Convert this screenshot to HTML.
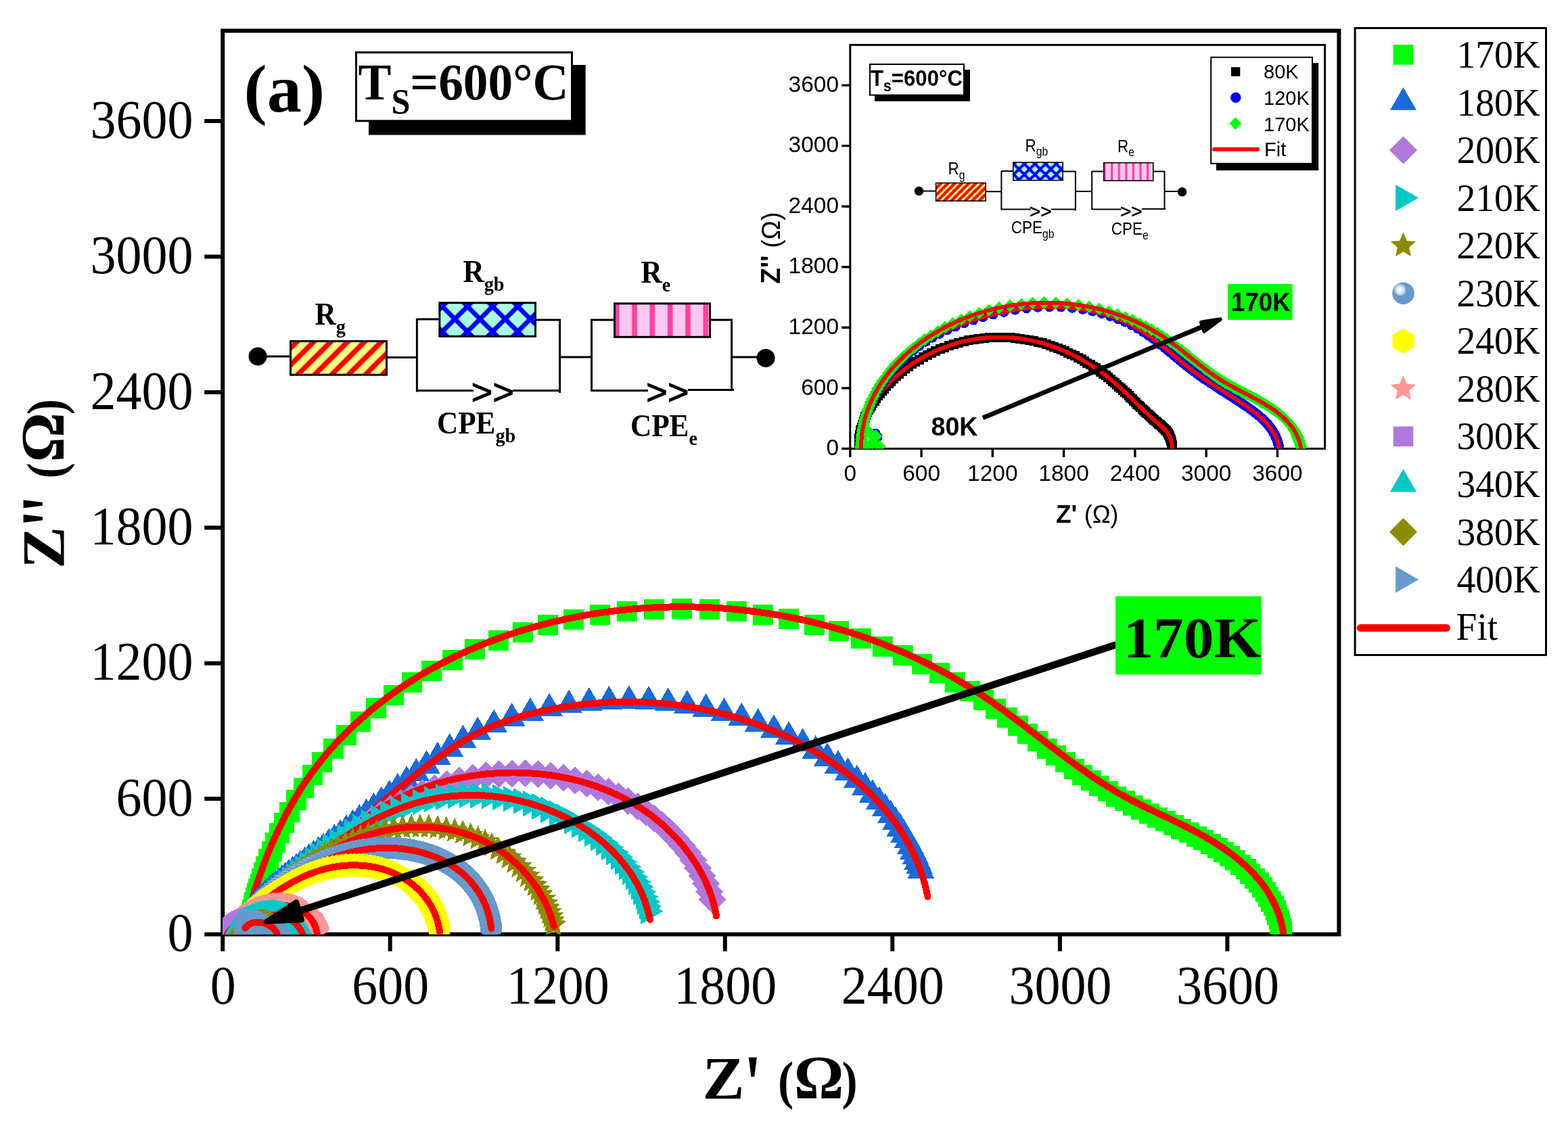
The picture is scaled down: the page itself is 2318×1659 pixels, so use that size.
<!DOCTYPE html>
<html><head><meta charset="utf-8"><title>Nyquist plot</title>
<style>
html,body{margin:0;padding:0;background:#fff;}
body{width:2318px;height:1659px;overflow:hidden;}
svg{display:block;}
text{white-space:pre;}
</style></head><body>
<svg width="2318" height="1659" viewBox="0 0 2318 1659">
<defs><clipPath id="mclip"><rect x="329.2" y="45.5" width="1650.2" height="1336"/></clipPath>
<clipPath id="iclip"><rect x="1256.8" y="66.4" width="701.8" height="597"/></clipPath></defs>
<defs><radialGradient id="sph" cx="0.355" cy="0.34" r="0.27" fx="0.355" fy="0.34"><stop offset="0" stop-color="#ffffff"/><stop offset="0.34" stop-color="#ffffff"/><stop offset="0.40" stop-color="#d9e6f4"/><stop offset="0.66" stop-color="#d9e6f4"/><stop offset="0.72" stop-color="#a9c6e6"/><stop offset="0.95" stop-color="#a9c6e6"/><stop offset="1" stop-color="#6699cc"/></radialGradient></defs>
<rect x="0" y="0" width="2318" height="1659" fill="#fff"/>
<rect x="329.2" y="45.5" width="1650.2" height="1336" fill="none" stroke="#000" stroke-width="6"/>
<path d="M329.2 1381.5h-27M329.2 1381.5v25M329.2 1181.1h-27M576.7 1381.5v25M329.2 980.7h-27M824.3 1381.5v25M329.2 780.3h-27M1071.8 1381.5v25M329.2 579.9h-27M1319.3 1381.5v25M329.2 379.5h-27M1566.9 1381.5v25M329.2 179.1h-27M1814.4 1381.5v25" stroke="#000" stroke-width="6" fill="none"/>
<g clip-path="url(#mclip)" shape-rendering="crispEdges">
<path d="M347.3 1368.5h30v30h-30zM348.1 1365.7h30v30h-30zM348.9 1362.6h30v30h-30zM349.8 1359.3h30v30h-30zM350.8 1355.8h30v30h-30zM351.9 1352.1h30v30h-30zM353 1348.1h30v30h-30zM354.1 1343.9h30v30h-30zM355.4 1339.4h30v30h-30zM356.8 1334.7h30v30h-30zM358.2 1329.6h30v30h-30zM359.8 1324.2h30v30h-30zM361.4 1318.5h30v30h-30zM363.3 1312.4h30v30h-30zM365.2 1305.9h30v30h-30zM367.4 1299h30v30h-30zM369.7 1291.6h30v30h-30zM372.2 1283.7h30v30h-30zM375.1 1275h30v30h-30zM378.4 1265.5h30v30h-30zM382.2 1255h30v30h-30zM386.6 1243.5h30v30h-30zM391.7 1230.9h30v30h-30zM397.6 1217.1h30v30h-30zM404.5 1202.1h30v30h-30zM412.7 1185.7h30v30h-30zM422.5 1168.2h30v30h-30zM433.8 1150h30v30h-30zM446.6 1131.2h30v30h-30zM461.3 1111.8h30v30h-30zM477.9 1092.1h30v30h-30zM496.8 1072h30v30h-30zM518 1051.8h30v30h-30zM541.3 1032h30v30h-30zM566.5 1012.8h30v30h-30zM593.7 994.4h30v30h-30zM622.7 976.9h30v30h-30zM653.8 960.6h30v30h-30zM686.8 945.4h30v30h-30zM721.7 931.7h30v30h-30zM758 919.5h30v30h-30zM795.3 909.1h30v30h-30zM833.4 900.5h30v30h-30zM872.4 893.7h30v30h-30zM912.1 888.8h30v30h-30zM952.4 885.8h30v30h-30zM993.3 884.8h30v30h-30zM1033.9 885.8h30v30h-30zM1073.7 888.7h30v30h-30zM1112.8 893.6h30v30h-30zM1151.1 900.3h30v30h-30zM1188.5 908.6h30v30h-30zM1224.5 918.4h30v30h-30zM1258.4 929.3h30v30h-30zM1290.3 941.1h30v30h-30zM1320.3 953.7h30v30h-30zM1348.1 966.7h30v30h-30zM1373.8 980h30v30h-30zM1397.3 993.5h30v30h-30zM1418.9 1007h30v30h-30zM1438.8 1020.3h30v30h-30zM1457.1 1033.3h30v30h-30zM1473.9 1045.9h30v30h-30zM1489.6 1058h30v30h-30zM1504.3 1069.5h30v30h-30zM1518.7 1080.8h30v30h-30zM1532.7 1091.5h30v30h-30zM1546.3 1102h30v30h-30zM1559.6 1111.9h30v30h-30zM1572.6 1121.5h30v30h-30zM1585.4 1130.6h30v30h-30zM1597.9 1139.2h30v30h-30zM1610.4 1147.4h30v30h-30zM1622.8 1155.2h30v30h-30zM1635.2 1162.5h30v30h-30zM1647.5 1169.4h30v30h-30zM1659.9 1176h30v30h-30zM1672.2 1182.1h30v30h-30zM1684.3 1188.1h30v30h-30zM1696.4 1193.8h30v30h-30zM1708.2 1199.4h30v30h-30zM1719.9 1205h30v30h-30zM1731.3 1210.5h30v30h-30zM1742.6 1216h30v30h-30zM1753.6 1221.5h30v30h-30zM1764.4 1227.1h30v30h-30zM1774.7 1232.9h30v30h-30zM1784.6 1238.9h30v30h-30zM1794 1244.9h30v30h-30zM1802.9 1251.1h30v30h-30zM1811.2 1257.4h30v30h-30zM1819.1 1263.8h30v30h-30zM1826.5 1270.2h30v30h-30zM1833.4 1276.8h30v30h-30zM1839.8 1283.5h30v30h-30zM1845.7 1290.2h30v30h-30zM1851.1 1297h30v30h-30zM1855.9 1303.8h30v30h-30zM1860.3 1310.7h30v30h-30zM1864.2 1317.5h30v30h-30zM1867.7 1324.3h30v30h-30zM1870.7 1331.1h30v30h-30zM1873.3 1337.8h30v30h-30zM1875.5 1344.4h30v30h-30zM1877.4 1350.8h30v30h-30zM1878.9 1357.2h30v30h-30zM1880.1 1363.4h30v30h-30z" fill="#00ff00"/>
<path d="M357 1382 L361.1 1368.1 L365.2 1354.1 L369.3 1340.2 L373.6 1326.3 L378.1 1312.4 L382.7 1298.6 L387.5 1284.9 L392.6 1271.2 L398 1257.7 L403.7 1244.2 L409.7 1231 L416 1217.8 L422.6 1204.9 L429.6 1192.1 L436.8 1179.5 L444.4 1167.1 L452.4 1155 L460.7 1143.1 L469.4 1131.5 L478.4 1120.1 L487.8 1109.1 L497.5 1098.2 L507.6 1087.7 L517.9 1077.4 L528.6 1067.5 L539.5 1057.8 L550.6 1048.3 L562 1039.2 L573.7 1030.4 L585.6 1021.8 L597.6 1013.6 L609.9 1005.6 L622.3 998 L635 990.6 L647.7 983.6 L660.6 976.9 L673.7 970.4 L686.9 964.3 L700.2 958.4 L713.6 952.8 L727.1 947.6 L740.8 942.5 L754.5 937.8 L768.3 933.3 L782.3 929.1 L796.3 925.2 L810.3 921.5 L824.5 918.1 L838.7 914.9 L852.9 912.1 L867.3 909.4 L881.6 907 L896.1 904.9 L910.5 903.1 L925 901.5 L939.5 900.1 L954.1 899 L968.7 898.2 L983.3 897.7 L997.9 897.3 L1012.5 897.3 L1027.1 897.5 L1041.7 897.9 L1056.2 898.7 L1070.8 899.6 L1085.4 900.8 L1099.9 902.3 L1114.4 904.1 L1128.9 906 L1143.3 908.3 L1157.7 910.8 L1172 913.5 L1186.3 916.5 L1200.5 919.8 L1214.7 923.3 L1228.8 927 L1242.8 931 L1256.8 935.3 L1270.6 939.8 L1284.4 944.5 L1298.1 949.5 L1311.6 954.8 L1325.1 960.3 L1338.5 966 L1351.7 972 L1364.8 978.2 L1377.8 984.7 L1390.7 991.5 L1403.5 998.5 L1416.1 1005.7 L1428.5 1013.2 L1440.9 1020.9 L1453 1028.8 L1465 1037 L1476.9 1045.4 L1488.7 1054 L1500.4 1062.7 L1512 1071.5 L1523.6 1080.4 L1535.1 1089.3 L1546.7 1098.2 L1558.3 1107.1 L1569.9 1115.9 L1581.6 1124.6 L1593.3 1133.2 L1605.2 1141.6 L1617.2 1149.8 L1629.3 1157.8 L1641.6 1165.5 L1654.1 1172.9 L1666.8 1180 L1679.8 1186.7 L1692.8 1193.2 L1706 1199.6 L1719.2 1205.9 L1732.4 1212.2 L1745.6 1218.6 L1758.7 1225.1 L1771.7 1231.9 L1784.4 1239 L1797 1246.6 L1809.2 1254.6 L1821.1 1263.1 L1832.5 1272.2 L1843.3 1281.8 L1853.5 1292.1 L1862.9 1302.9 L1871.5 1314.4 L1879 1326.5 L1885.5 1339.3 L1890.9 1352.8 L1895 1367 L1897.7 1382" fill="none" stroke="#ff0000" stroke-width="10" stroke-linecap="round" stroke-linejoin="round"/>
<path d="M347 1357.6L367 1392.2L327 1392.2zM348.5 1355L368.5 1389.6L328.5 1389.6zM350 1352.3L370 1387L330 1387zM351.7 1349.6L371.7 1384.2L331.7 1384.2zM353.4 1346.8L373.4 1381.4L333.4 1381.4zM355.3 1343.9L375.3 1378.6L335.3 1378.6zM357.2 1341L377.2 1375.6L337.2 1375.6zM359.3 1338L379.3 1372.7L339.3 1372.7zM361.5 1335L381.5 1369.6L341.5 1369.6zM363.8 1331.9L383.8 1366.5L343.8 1366.5zM366.2 1328.7L386.2 1363.3L346.2 1363.3zM368.8 1325.5L388.8 1360.1L348.8 1360.1zM371.5 1322.2L391.5 1356.8L351.5 1356.8zM374.4 1318.8L394.4 1353.5L354.4 1353.5zM377.4 1315.4L397.4 1350.1L357.4 1350.1zM380.5 1312L400.5 1346.6L360.5 1346.6zM383.9 1308.4L403.9 1343.1L363.9 1343.1zM387.3 1304.9L407.3 1339.5L367.3 1339.5zM391 1301.2L411 1335.9L371 1335.9zM394.8 1297.5L414.8 1332.2L374.8 1332.2zM398.9 1293.8L418.9 1328.4L378.9 1328.4zM403.1 1290L423.1 1324.6L383.1 1324.6zM407.4 1286.1L427.4 1320.7L387.4 1320.7zM412 1282.2L432 1316.8L392 1316.8zM416.8 1278.1L436.8 1312.8L396.8 1312.8zM421.8 1274L441.8 1308.7L401.8 1308.7zM427 1269.9L447 1304.5L407 1304.5zM432.4 1265.6L452.4 1300.3L412.4 1300.3zM438 1261.2L458 1295.9L418 1295.9zM443.9 1256.7L463.9 1291.3L423.9 1291.3zM450.2 1251.9L470.2 1286.6L430.2 1286.6zM456.7 1246.9L476.7 1281.6L436.7 1281.6zM463.6 1241.7L483.6 1276.4L443.6 1276.4zM470.8 1236.2L490.8 1270.9L450.8 1270.9zM478.3 1230.5L498.3 1265.1L458.3 1265.1zM486.2 1224.4L506.2 1259L466.2 1259zM494.4 1217.9L514.4 1252.6L474.4 1252.6zM503 1211.2L523 1245.8L483 1245.8zM512 1204.1L532 1238.7L492 1238.7zM521.4 1196.6L541.4 1231.2L501.4 1231.2zM531.3 1188.7L551.3 1223.3L511.3 1223.3zM541.6 1180.4L561.6 1215L521.6 1215zM552.4 1171.7L572.4 1206.3L532.4 1206.3zM563.7 1162.5L583.7 1197.2L543.7 1197.2zM575.5 1152.9L595.5 1187.5L555.5 1187.5zM587.9 1142.8L607.9 1177.5L567.9 1177.5zM601.1 1132.1L621.1 1166.8L581.1 1166.8zM615.3 1120.8L635.3 1155.4L595.3 1155.4zM630.5 1108.9L650.5 1143.5L610.5 1143.5zM646.9 1096.5L666.9 1131.2L626.9 1131.2zM664.8 1084L684.8 1118.6L644.8 1118.6zM684.5 1071.5L704.5 1106.1L664.5 1106.1zM706.2 1059.5L726.2 1094.2L686.2 1094.2zM730.2 1048.6L750.2 1083.3L710.2 1083.3zM756.6 1039L776.6 1073.7L736.6 1073.7zM783.9 1031.1L803.9 1065.7L763.9 1065.7zM812.1 1024.7L832.1 1059.3L792.1 1059.3zM841.1 1019.7L861.1 1054.3L821.1 1054.3zM870.8 1016L890.8 1050.7L850.8 1050.7zM900.4 1013.9L920.4 1048.5L880.4 1048.5zM929.9 1013.3L949.9 1047.9L909.9 1047.9zM959 1014.1L979 1048.8L939 1048.8zM987.7 1016.4L1007.7 1051L967.7 1051zM1015.9 1020.1L1035.9 1054.7L995.9 1054.7zM1043.6 1025.1L1063.6 1059.7L1023.6 1059.7zM1070.5 1031.4L1090.5 1066L1050.5 1066zM1096.2 1038.7L1116.2 1073.4L1076.2 1073.4zM1120.7 1047L1140.7 1081.7L1100.7 1081.7zM1144 1056.2L1164 1090.9L1124 1090.9zM1166.1 1066.1L1186.1 1100.8L1146.1 1100.8zM1186.6 1076.5L1206.6 1111.1L1166.6 1111.1zM1205.6 1087.1L1225.6 1121.8L1185.6 1121.8zM1223 1097.9L1243 1132.6L1203 1132.6zM1238.9 1108.8L1258.9 1143.5L1218.9 1143.5zM1253.5 1119.8L1273.5 1154.4L1233.5 1154.4zM1266.8 1130.6L1286.8 1165.3L1246.8 1165.3zM1278.9 1141.4L1298.9 1176.1L1258.9 1176.1zM1289.9 1152.1L1309.9 1186.7L1269.9 1186.7zM1299.8 1162.5L1319.8 1197.2L1279.8 1197.2zM1308.8 1172.8L1328.8 1207.4L1288.8 1207.4zM1316.8 1182.8L1336.8 1217.4L1296.8 1217.4zM1324 1192.5L1344 1227.1L1304 1227.1zM1330.5 1201.9L1350.5 1236.6L1310.5 1236.6zM1336.3 1211L1356.3 1245.7L1316.3 1245.7zM1341.4 1219.8L1361.4 1254.4L1321.4 1254.4zM1345.9 1228.2L1365.9 1262.8L1325.9 1262.8zM1349.9 1236.2L1369.9 1270.8L1329.9 1270.8zM1353.4 1243.7L1373.4 1278.4L1333.4 1278.4zM1356.4 1250.9L1376.4 1285.6L1336.4 1285.6zM1359.1 1257.7L1379.1 1292.3L1339.1 1292.3zM1361.4 1264.1L1381.4 1298.8L1341.4 1298.8z" fill="#1a6add"/>
<path d="M347 1382.2 L351.9 1373.8 L357.2 1365.6 L362.8 1357.8 L368.6 1350.3 L374.7 1343 L381 1336 L387.6 1329.2 L394.3 1322.6 L401.3 1316.2 L408.3 1309.9 L415.5 1303.8 L422.9 1297.8 L430.3 1291.8 L437.8 1286 L445.3 1280.2 L452.9 1274.4 L460.5 1268.7 L468.1 1262.9 L475.7 1257.1 L483.2 1251.3 L490.8 1245.4 L498.3 1239.5 L505.7 1233.6 L513.2 1227.7 L520.7 1221.8 L528.1 1215.8 L535.6 1209.8 L543 1203.8 L550.4 1197.8 L557.8 1191.8 L565.3 1185.8 L572.7 1179.8 L580.1 1173.8 L587.5 1167.7 L594.9 1161.7 L602.4 1155.7 L609.8 1149.7 L617.3 1143.7 L624.8 1137.8 L632.4 1132 L640 1126.2 L647.7 1120.6 L655.4 1115 L663.2 1109.6 L671.1 1104.4 L679.1 1099.3 L687.2 1094.5 L695.4 1089.8 L703.7 1085.4 L712.2 1081.2 L720.8 1077.2 L729.5 1073.5 L738.3 1070 L747.2 1066.8 L756.2 1063.7 L765.3 1060.9 L774.5 1058.2 L783.7 1055.7 L793 1053.5 L802.3 1051.3 L811.7 1049.4 L821.1 1047.6 L830.5 1045.9 L840 1044.4 L849.5 1043.1 L859 1041.9 L868.5 1040.8 L878 1040 L887.5 1039.2 L897 1038.7 L906.6 1038.2 L916.1 1038 L925.7 1037.9 L935.2 1037.9 L944.7 1038.1 L954.3 1038.5 L963.8 1039 L973.3 1039.7 L982.8 1040.5 L992.3 1041.5 L1001.7 1042.6 L1011.2 1043.9 L1020.6 1045.4 L1030 1047 L1039.3 1048.8 L1048.7 1050.7 L1058 1052.8 L1067.2 1055.1 L1076.4 1057.5 L1085.6 1060.1 L1094.7 1062.8 L1103.8 1065.8 L1112.9 1068.8 L1121.8 1072 L1130.8 1075.4 L1139.6 1079 L1148.4 1082.7 L1157.2 1086.6 L1165.9 1090.6 L1174.5 1094.8 L1183.1 1099.2 L1191.5 1103.7 L1199.9 1108.4 L1208.2 1113.3 L1216.4 1118.3 L1224.5 1123.5 L1232.4 1128.9 L1240.2 1134.4 L1247.9 1140.1 L1255.5 1145.9 L1262.9 1151.9 L1270.1 1158.1 L1277.2 1164.4 L1284.1 1170.9 L1290.8 1177.6 L1297.3 1184.4 L1303.7 1191.4 L1309.8 1198.6 L1315.7 1205.9 L1321.4 1213.4 L1326.8 1221.1 L1332 1228.9 L1337 1236.9 L1341.7 1245 L1346.2 1253.3 L1350.4 1261.8 L1354.3 1270.4 L1357.9 1279.2 L1361.3 1288.2 L1364.3 1297.3 L1367 1306.6 L1369.4 1316.1 L1371.5 1325.7" fill="none" stroke="#ff0000" stroke-width="10" stroke-linecap="round" stroke-linejoin="round"/>
<path d="M346 1360.5L366.5 1381L346 1401.5L325.5 1381zM348.2 1358.4L368.7 1378.9L348.2 1399.4L327.7 1378.9zM350.4 1356.3L370.9 1376.8L350.4 1397.3L329.9 1376.8zM352.7 1354L373.2 1374.5L352.7 1395L332.2 1374.5zM355.2 1351.7L375.7 1372.2L355.2 1392.7L334.7 1372.2zM357.7 1349.3L378.2 1369.8L357.7 1390.3L337.2 1369.8zM360.3 1346.8L380.8 1367.3L360.3 1387.8L339.8 1367.3zM363 1344.2L383.5 1364.7L363 1385.2L342.5 1364.7zM365.9 1341.5L386.4 1362L365.9 1382.5L345.4 1362zM368.8 1338.8L389.3 1359.3L368.8 1379.8L348.3 1359.3zM371.9 1335.9L392.4 1356.4L371.9 1376.9L351.4 1356.4zM375.1 1332.9L395.6 1353.4L375.1 1373.9L354.6 1353.4zM378.4 1329.8L398.9 1350.3L378.4 1370.8L357.9 1350.3zM381.9 1326.6L402.4 1347.1L381.9 1367.6L361.4 1347.1zM385.5 1323.3L406 1343.8L385.5 1364.3L365 1343.8zM389.2 1319.9L409.7 1340.4L389.2 1360.9L368.7 1340.4zM393.1 1316.4L413.6 1336.9L393.1 1357.4L372.6 1336.9zM397.1 1312.7L417.6 1333.2L397.1 1353.7L376.6 1333.2zM401.4 1308.9L421.9 1329.4L401.4 1349.9L380.9 1329.4zM405.8 1305L426.3 1325.5L405.8 1346L385.3 1325.5zM410.3 1300.9L430.8 1321.4L410.3 1341.9L389.8 1321.4zM415.1 1296.7L435.6 1317.2L415.1 1337.7L394.6 1317.2zM420.1 1292.4L440.6 1312.9L420.1 1333.4L399.6 1312.9zM425.2 1287.9L445.7 1308.4L425.2 1328.9L404.7 1308.4zM430.6 1283.2L451.1 1303.7L430.6 1324.2L410.1 1303.7zM436.2 1278.4L456.7 1298.9L436.2 1319.4L415.7 1298.9zM442.1 1273.5L462.6 1294L442.1 1314.5L421.6 1294zM448.2 1268.4L468.7 1288.9L448.2 1309.4L427.7 1288.9zM454.6 1263L475.1 1283.5L454.6 1304L434.1 1283.5zM461.5 1257.3L482 1277.8L461.5 1298.3L441 1277.8zM468.9 1251.4L489.4 1271.9L468.9 1292.4L448.4 1271.9zM476.7 1245.1L497.2 1265.6L476.7 1286.1L456.2 1265.6zM485.1 1238.4L505.6 1258.9L485.1 1279.4L464.6 1258.9zM494 1231.5L514.5 1252L494 1272.5L473.5 1252zM503.6 1224.2L524.1 1244.7L503.6 1265.2L483.1 1244.7zM513.8 1216.6L534.3 1237.1L513.8 1257.6L493.3 1237.1zM524.8 1208.7L545.3 1229.2L524.8 1249.7L504.3 1229.2zM536.6 1200.5L557.1 1221L536.6 1241.5L516.1 1221zM549.3 1192.1L569.8 1212.6L549.3 1233.1L528.8 1212.6zM562.9 1183.5L583.4 1204L562.9 1224.5L542.4 1204zM577.2 1175.1L597.7 1195.6L577.2 1216.1L556.7 1195.6zM592.2 1167L612.7 1187.5L592.2 1208L571.7 1187.5zM608 1159.2L628.5 1179.7L608 1200.2L587.5 1179.7zM624.6 1151.9L645.1 1172.4L624.6 1192.9L604.1 1172.4zM642 1145L662.5 1165.5L642 1186L621.5 1165.5zM660.2 1138.9L680.7 1159.4L660.2 1179.9L639.7 1159.4zM679.4 1133.6L699.9 1154.1L679.4 1174.6L658.9 1154.1zM698.8 1129.4L719.3 1149.9L698.8 1170.4L678.3 1149.9zM718.3 1126.3L738.8 1146.8L718.3 1167.3L697.8 1146.8zM737.7 1124.2L758.2 1144.7L737.7 1165.2L717.2 1144.7zM757.2 1123.3L777.7 1143.8L757.2 1164.3L736.7 1143.8zM776.4 1123.3L796.9 1143.8L776.4 1164.3L755.9 1143.8zM795.5 1124.4L816 1144.9L795.5 1165.4L775 1144.9zM814.4 1126.5L834.9 1147L814.4 1167.5L793.9 1147zM832.7 1129.5L853.2 1150L832.7 1170.5L812.2 1150zM850.3 1133.4L870.8 1153.9L850.3 1174.4L829.8 1153.9zM867.4 1138.2L887.9 1158.7L867.4 1179.2L846.9 1158.7zM883.8 1143.6L904.3 1164.1L883.8 1184.6L863.3 1164.1zM899.5 1149.9L920 1170.4L899.5 1190.9L879 1170.4zM914.5 1156.7L935 1177.2L914.5 1197.7L894 1177.2zM928.8 1164.2L949.3 1184.7L928.8 1205.2L908.3 1184.7zM942.3 1172.2L962.8 1192.7L942.3 1213.2L921.8 1192.7zM955.1 1180.8L975.6 1201.3L955.1 1221.8L934.6 1201.3zM967.2 1189.8L987.7 1210.3L967.2 1230.8L946.7 1210.3zM978.6 1199.2L999.1 1219.7L978.6 1240.2L958.1 1219.7zM989.2 1209.1L1009.7 1229.6L989.2 1250.1L968.7 1229.6zM999.2 1219.3L1019.7 1239.8L999.2 1260.3L978.7 1239.8zM1008.4 1229.8L1028.9 1250.3L1008.4 1270.8L987.9 1250.3zM1017 1240.6L1037.5 1261.1L1017 1281.6L996.5 1261.1zM1024.8 1251.7L1045.3 1272.2L1024.8 1292.7L1004.3 1272.2zM1031.8 1263L1052.3 1283.5L1031.8 1304L1011.3 1283.5zM1038.2 1274.4L1058.7 1294.9L1038.2 1315.4L1017.7 1294.9zM1043.8 1286L1064.3 1306.5L1043.8 1327L1023.3 1306.5zM1048.6 1297.7L1069.1 1318.2L1048.6 1338.7L1028.1 1318.2zM1052.7 1309.4L1073.2 1329.9L1052.7 1350.4L1032.2 1329.9z" fill="#b078dc"/>
<path d="M346 1381 L350.1 1375.6 L354.2 1370.3 L358.4 1365.1 L362.8 1360 L367.2 1355 L371.7 1350.1 L376.3 1345.2 L380.9 1340.5 L385.6 1335.8 L390.4 1331.1 L395.2 1326.6 L400.1 1322 L405.1 1317.6 L410.1 1313.2 L415.1 1308.8 L420.2 1304.5 L425.3 1300.2 L430.5 1295.9 L435.7 1291.7 L440.9 1287.5 L446.1 1283.3 L451.3 1279.1 L456.6 1274.9 L461.9 1270.8 L467.2 1266.6 L472.4 1262.4 L477.7 1258.2 L483 1254 L488.3 1249.8 L493.5 1245.6 L498.8 1241.4 L504.1 1237.2 L509.4 1233 L514.7 1228.9 L520 1224.8 L525.4 1220.7 L530.8 1216.8 L536.2 1212.8 L541.7 1209 L547.2 1205.2 L552.7 1201.5 L558.3 1197.9 L564 1194.4 L569.7 1191 L575.5 1187.8 L581.4 1184.6 L587.3 1181.6 L593.2 1178.7 L599.3 1175.9 L605.3 1173.2 L611.5 1170.6 L617.7 1168.2 L623.9 1165.9 L630.2 1163.6 L636.5 1161.5 L642.8 1159.5 L649.2 1157.6 L655.7 1155.9 L662.1 1154.2 L668.7 1152.7 L675.2 1151.2 L681.8 1149.9 L688.4 1148.7 L695 1147.6 L701.6 1146.6 L708.3 1145.7 L715 1144.9 L721.7 1144.2 L728.4 1143.7 L735.2 1143.2 L741.9 1142.9 L748.7 1142.6 L755.4 1142.5 L762.2 1142.5 L768.9 1142.6 L775.7 1142.9 L782.4 1143.2 L789.2 1143.7 L795.9 1144.2 L802.6 1144.9 L809.3 1145.7 L815.9 1146.6 L822.6 1147.7 L829.2 1148.8 L835.8 1150.1 L842.3 1151.5 L848.9 1153 L855.4 1154.7 L861.8 1156.5 L868.2 1158.3 L874.6 1160.4 L880.9 1162.5 L887.1 1164.8 L893.3 1167.1 L899.5 1169.6 L905.6 1172.3 L911.6 1175 L917.6 1177.9 L923.5 1181 L929.3 1184.1 L935.1 1187.4 L940.8 1190.8 L946.4 1194.3 L951.9 1198 L957.4 1201.8 L962.8 1205.7 L968 1209.8 L973.2 1214 L978.3 1218.3 L983.3 1222.8 L988.2 1227.4 L993 1232.1 L997.7 1237 L1002.3 1242 L1006.8 1247.1 L1011.1 1252.4 L1015.3 1257.7 L1019.3 1263.2 L1023.3 1268.7 L1027 1274.4 L1030.6 1280.1 L1034.1 1286 L1037.3 1291.9 L1040.4 1297.9 L1043.3 1303.9 L1046 1310.1 L1048.5 1316.3 L1050.8 1322.5 L1052.9 1328.8 L1054.8 1335.2 L1056.4 1341.6 L1057.8 1348 L1059 1354.5" fill="none" stroke="#ff0000" stroke-width="10" stroke-linecap="round" stroke-linejoin="round"/>
<path d="M367.5 1381L333.7 1400.5L333.7 1361.5zM369.6 1378.9L335.8 1398.4L335.8 1359.4zM371.8 1376.6L338 1396.1L338 1357.1zM374.1 1374.3L340.3 1393.8L340.3 1354.8zM376.5 1371.9L342.7 1391.4L342.7 1352.4zM379 1369.3L345.2 1388.8L345.2 1349.8zM381.6 1366.7L347.9 1386.2L347.9 1347.2zM384.4 1363.9L350.6 1383.4L350.6 1344.4zM387.2 1361.1L353.5 1380.6L353.5 1341.6zM390.2 1358.1L356.4 1377.6L356.4 1338.6zM393.3 1354.9L359.6 1374.4L359.6 1335.4zM396.6 1351.7L362.8 1371.2L362.8 1332.2zM400 1348.3L366.3 1367.8L366.3 1328.8zM403.6 1344.8L369.8 1364.3L369.8 1325.3zM407.4 1341.1L373.6 1360.6L373.6 1321.6zM411.3 1337.3L377.5 1356.8L377.5 1317.8zM415.4 1333.3L381.6 1352.8L381.6 1313.8zM419.7 1329.2L385.9 1348.7L385.9 1309.7zM424.2 1324.9L390.4 1344.4L390.4 1305.4zM429 1320.4L395.2 1339.9L395.2 1300.9zM433.9 1315.8L400.2 1335.3L400.2 1296.3zM439.1 1311L405.4 1330.5L405.4 1291.5zM444.6 1306L410.8 1325.5L410.8 1286.5zM450.4 1300.9L416.6 1320.4L416.6 1281.4zM456.4 1295.5L422.7 1315L422.7 1276zM462.9 1289.9L429.1 1309.4L429.1 1270.4zM469.7 1284.1L435.9 1303.6L435.9 1264.6zM477 1278.1L443.2 1297.6L443.2 1258.6zM484.7 1271.9L450.9 1291.4L450.9 1252.4zM492.9 1265.4L459.1 1284.9L459.1 1245.9zM501.6 1258.8L467.9 1278.3L467.9 1239.3zM511 1251.9L477.2 1271.4L477.2 1232.4zM521 1244.9L487.2 1264.4L487.2 1225.4zM531.6 1237.8L497.8 1257.3L497.8 1218.3zM543 1230.6L509.3 1250.1L509.3 1211.1zM555.2 1223.3L521.4 1242.8L521.4 1203.8zM568 1216.2L534.2 1235.7L534.2 1196.7zM581.5 1209.3L547.7 1228.8L547.7 1189.8zM595.7 1202.7L561.9 1222.2L561.9 1183.2zM610.7 1196.5L577 1216L577 1177zM626.6 1190.8L592.8 1210.3L592.8 1171.3zM643.2 1185.9L609.5 1205.4L609.5 1166.4zM660.7 1181.7L627 1201.2L627 1162.2zM678.2 1178.7L644.4 1198.2L644.4 1159.2zM695.4 1176.8L661.6 1196.3L661.6 1157.3zM712.5 1175.9L678.7 1195.4L678.7 1156.4zM729.2 1176L695.4 1195.5L695.4 1156.5zM745.6 1177L711.9 1196.5L711.9 1157.5zM761.7 1178.8L727.9 1198.3L727.9 1159.3zM777.3 1181.3L743.5 1200.8L743.5 1161.8zM792.2 1184.5L758.5 1204L758.5 1165zM806.5 1188.3L772.7 1207.8L772.7 1168.8zM820.1 1192.6L786.4 1212.1L786.4 1173.1zM833.1 1197.3L799.3 1216.8L799.3 1177.8zM845.4 1202.5L811.7 1222L811.7 1183zM857.1 1208L823.3 1227.5L823.3 1188.5zM868.2 1213.8L834.4 1233.3L834.4 1194.3zM878.6 1219.8L844.9 1239.3L844.9 1200.3zM888.5 1226.1L854.7 1245.6L854.7 1206.6zM897.7 1232.6L864 1252.1L864 1213.1zM906.4 1239.2L872.7 1258.7L872.7 1219.7zM914.6 1246L880.9 1265.5L880.9 1226.5zM922.3 1252.9L888.6 1272.4L888.6 1233.4zM929.5 1260L895.8 1279.5L895.8 1240.5zM936.3 1267.2L902.5 1286.7L902.5 1247.7zM942.5 1274.5L908.7 1294L908.7 1255zM948.2 1281.8L914.5 1301.3L914.5 1262.3zM953.5 1289.2L919.7 1308.7L919.7 1269.7zM958.3 1296.6L924.6 1316.1L924.6 1277.1zM962.7 1304L929 1323.5L929 1284.5zM966.7 1311.3L932.9 1330.8L932.9 1291.8zM970.2 1318.7L936.4 1338.2L936.4 1299.2zM973.4 1326L939.6 1345.5L939.6 1306.5zM976.1 1333.2L942.3 1352.7L942.3 1313.7zM978.5 1340.3L944.7 1359.8L944.7 1320.8zM980.6 1347.4L946.8 1366.9L946.8 1327.9z" fill="#00c8c8"/>
<path d="M345 1381 L348.9 1377 L352.9 1373 L356.9 1369 L360.9 1364.9 L364.9 1360.9 L368.9 1356.9 L372.9 1352.8 L377 1348.8 L381.1 1344.8 L385.2 1340.8 L389.3 1336.8 L393.4 1332.8 L397.6 1328.8 L401.8 1324.8 L406 1320.8 L410.2 1316.9 L414.5 1313 L418.7 1309.1 L423 1305.2 L427.4 1301.3 L431.7 1297.5 L436.1 1293.6 L440.5 1289.8 L444.9 1286.1 L449.3 1282.3 L453.8 1278.6 L458.3 1275 L462.8 1271.3 L467.4 1267.8 L472 1264.2 L476.6 1260.7 L481.2 1257.2 L485.9 1253.8 L490.6 1250.4 L495.4 1247.1 L500.1 1243.8 L504.9 1240.6 L509.7 1237.4 L514.6 1234.2 L519.5 1231.2 L524.4 1228.2 L529.4 1225.2 L534.4 1222.3 L539.4 1219.5 L544.5 1216.7 L549.6 1214 L554.7 1211.4 L559.8 1208.9 L565 1206.4 L570.3 1204 L575.5 1201.7 L580.8 1199.5 L586.1 1197.3 L591.4 1195.3 L596.8 1193.3 L602.2 1191.5 L607.6 1189.7 L613.1 1188 L618.6 1186.4 L624.1 1185 L629.6 1183.6 L635.2 1182.4 L640.8 1181.2 L646.4 1180.2 L652.1 1179.2 L657.8 1178.4 L663.5 1177.7 L669.2 1177.1 L674.9 1176.7 L680.7 1176.3 L686.4 1176 L692.2 1175.9 L698 1175.9 L703.7 1175.9 L709.5 1176.1 L715.3 1176.4 L721.1 1176.8 L726.9 1177.3 L732.6 1177.9 L738.4 1178.6 L744.1 1179.5 L749.9 1180.4 L755.6 1181.4 L761.3 1182.6 L766.9 1183.8 L772.6 1185.2 L778.2 1186.6 L783.8 1188.2 L789.4 1189.9 L794.9 1191.7 L800.4 1193.5 L805.9 1195.5 L811.3 1197.6 L816.6 1199.8 L822 1202.1 L827.3 1204.4 L832.5 1206.9 L837.7 1209.5 L842.8 1212.2 L847.9 1215 L852.9 1217.9 L857.8 1220.9 L862.7 1224 L867.5 1227.1 L872.3 1230.4 L876.9 1233.8 L881.5 1237.3 L886 1240.9 L890.4 1244.5 L894.8 1248.3 L899 1252.2 L903.1 1256.1 L907.2 1260.2 L911.1 1264.3 L914.9 1268.5 L918.6 1272.9 L922.2 1277.3 L925.7 1281.8 L929.1 1286.4 L932.3 1291.1 L935.4 1295.9 L938.3 1300.7 L941.2 1305.7 L943.9 1310.7 L946.4 1315.9 L948.8 1321.1 L951 1326.4 L953.1 1331.8 L955 1337.2 L956.8 1342.8 L958.3 1348.5 L959.8 1354.2 L961 1360" fill="none" stroke="#ff0000" stroke-width="10" stroke-linecap="round" stroke-linejoin="round"/>
<path d="M343 1361.4L348.3 1373.7L361.6 1374.9L351.6 1383.8L354.5 1396.9L343 1390L331.5 1396.9L334.4 1383.8L324.4 1374.9L337.7 1373.7zM345 1359.1L350.3 1371.4L363.6 1372.7L353.5 1381.5L356.5 1394.6L345 1387.7L333.4 1394.6L336.4 1381.5L326.3 1372.7L339.7 1371.4zM347 1356.7L352.3 1369.1L365.6 1370.3L355.6 1379.1L358.5 1392.2L347 1385.4L335.5 1392.2L338.4 1379.1L328.4 1370.3L341.7 1369.1zM349.2 1354.3L354.5 1366.6L367.8 1367.8L357.7 1376.7L360.7 1389.7L349.2 1382.9L337.6 1389.7L340.6 1376.7L330.5 1367.8L343.9 1366.6zM351.4 1351.7L356.7 1364L370.1 1365.3L360 1374.1L362.9 1387.2L351.4 1380.3L339.9 1387.2L342.8 1374.1L332.8 1365.3L346.1 1364zM353.8 1349L359.1 1361.3L372.4 1362.6L362.4 1371.4L365.3 1384.5L353.8 1377.7L342.3 1384.5L345.2 1371.4L335.1 1362.6L348.5 1361.3zM356.3 1346.3L361.6 1358.6L374.9 1359.8L364.9 1368.6L367.8 1381.7L356.3 1374.9L344.8 1381.7L347.7 1368.6L337.6 1359.8L351 1358.6zM358.9 1343.4L364.2 1355.7L377.5 1356.9L367.5 1365.8L370.4 1378.8L358.9 1372L347.4 1378.8L350.3 1365.8L340.3 1356.9L353.6 1355.7zM361.7 1340.4L367 1352.7L380.3 1353.9L370.2 1362.8L373.2 1375.8L361.7 1369L350.1 1375.8L353.1 1362.8L343 1353.9L356.4 1352.7zM364.5 1337.2L369.8 1349.5L383.2 1350.8L373.1 1359.6L376.1 1372.7L364.5 1365.9L353 1372.7L356 1359.6L345.9 1350.8L359.2 1349.5zM367.6 1334L372.9 1346.3L386.2 1347.5L376.2 1356.4L379.1 1369.5L367.6 1362.6L356.1 1369.5L359 1356.4L349 1347.5L362.3 1346.3zM370.8 1330.6L376.1 1342.9L389.4 1344.2L379.4 1353L382.3 1366.1L370.8 1359.3L359.3 1366.1L362.2 1353L352.2 1344.2L365.5 1342.9zM374.2 1327.1L379.5 1339.5L392.8 1340.7L382.7 1349.5L385.7 1362.6L374.2 1355.8L362.7 1362.6L365.6 1349.5L355.5 1340.7L368.9 1339.5zM377.7 1323.5L383 1335.8L396.4 1337.1L386.3 1345.9L389.2 1359L377.7 1352.1L366.2 1359L369.2 1345.9L359.1 1337.1L372.4 1335.8zM381.5 1319.8L386.8 1332.1L400.1 1333.3L390 1342.2L393 1355.2L381.5 1348.4L370 1355.2L372.9 1342.2L362.8 1333.3L376.2 1332.1zM385.4 1315.9L390.7 1328.2L404.1 1329.4L394 1338.3L396.9 1351.3L385.4 1344.5L373.9 1351.3L376.8 1338.3L366.8 1329.4L380.1 1328.2zM389.6 1311.9L394.9 1324.2L408.2 1325.4L398.2 1334.3L401.1 1347.3L389.6 1340.5L378.1 1347.3L381 1334.3L370.9 1325.4L384.3 1324.2zM394 1307.7L399.3 1320L412.6 1321.3L402.5 1330.1L405.5 1343.2L394 1336.3L382.4 1343.2L385.4 1330.1L375.3 1321.3L388.7 1320zM398.6 1303.4L403.9 1315.7L417.2 1317L407.2 1325.8L410.1 1338.9L398.6 1332L387.1 1338.9L390 1325.8L380 1317L393.3 1315.7zM403.5 1299L408.8 1311.3L422.1 1312.6L412.1 1321.4L415 1334.5L403.5 1327.6L392 1334.5L394.9 1321.4L384.9 1312.6L398.2 1311.3zM408.7 1294.5L414 1306.8L427.3 1308L417.2 1316.8L420.2 1329.9L408.7 1323.1L397.1 1329.9L400.1 1316.8L390 1308L403.4 1306.8zM414.1 1289.8L419.4 1302.1L432.8 1303.3L422.7 1312.1L425.7 1325.2L414.1 1318.4L402.6 1325.2L405.6 1312.1L395.5 1303.3L408.8 1302.1zM419.9 1284.9L425.2 1297.3L438.6 1298.5L428.5 1307.3L431.4 1320.4L419.9 1313.6L408.4 1320.4L411.3 1307.3L401.3 1298.5L414.6 1297.3zM426 1280L431.3 1292.3L444.7 1293.6L434.6 1302.4L437.5 1315.5L426 1308.6L414.5 1315.5L417.5 1302.4L407.4 1293.6L420.7 1292.3zM432.5 1275L437.8 1287.3L451.1 1288.5L441.1 1297.4L444 1310.4L432.5 1303.6L421 1310.4L423.9 1297.4L413.9 1288.5L427.2 1287.3zM439.4 1269.8L444.7 1282.1L458 1283.4L447.9 1292.2L450.9 1305.3L439.4 1298.4L427.8 1305.3L430.8 1292.2L420.7 1283.4L434.1 1282.1zM446.6 1264.6L451.9 1276.9L465.3 1278.1L455.2 1287L458.2 1300L446.6 1293.2L435.1 1300L438.1 1287L428 1278.1L441.3 1276.9zM454.3 1259.3L459.6 1271.6L473 1272.8L462.9 1281.7L465.9 1294.7L454.3 1287.9L442.8 1294.7L445.8 1281.7L435.7 1272.8L449 1271.6zM462.5 1253.9L467.8 1266.2L481.2 1267.5L471.1 1276.3L474 1289.4L462.5 1282.5L451 1289.4L454 1276.3L443.9 1267.5L457.2 1266.2zM471.2 1248.5L476.5 1260.8L489.9 1262.1L479.8 1270.9L482.7 1284L471.2 1277.1L459.7 1284L462.6 1270.9L452.6 1262.1L465.9 1260.8zM480.4 1243.1L485.7 1255.5L499.1 1256.7L489 1265.5L492 1278.6L480.4 1271.8L468.9 1278.6L471.9 1265.5L461.8 1256.7L475.1 1255.5zM490.2 1237.8L495.5 1250.1L508.8 1251.4L498.7 1260.2L501.7 1273.3L490.2 1266.5L478.6 1273.3L481.6 1260.2L471.5 1251.4L484.9 1250.1zM500.3 1232.7L505.6 1245L518.9 1246.3L508.8 1255.1L511.8 1268.2L500.3 1261.3L488.7 1268.2L491.7 1255.1L481.6 1246.3L495 1245zM510.8 1227.8L516.1 1240.1L529.4 1241.4L519.3 1250.2L522.3 1263.3L510.8 1256.5L499.2 1263.3L502.2 1250.2L492.1 1241.4L505.5 1240.1zM521.7 1223.2L527 1235.5L540.3 1236.8L530.2 1245.6L533.2 1258.7L521.7 1251.8L510.1 1258.7L513.1 1245.6L503 1236.8L516.4 1235.5zM533 1218.9L538.3 1231.2L551.6 1232.5L541.5 1241.3L544.5 1254.4L533 1247.5L521.4 1254.4L524.4 1241.3L514.3 1232.5L527.7 1231.2zM544.7 1215L550 1227.3L563.3 1228.5L553.3 1237.4L556.2 1250.4L544.7 1243.6L533.2 1250.4L536.1 1237.4L526 1228.5L539.4 1227.3zM556.8 1211.4L562.1 1223.8L575.5 1225L565.4 1233.8L568.4 1246.9L556.8 1240.1L545.3 1246.9L548.3 1233.8L538.2 1225L551.5 1223.8zM569.4 1208.4L574.7 1220.7L588.1 1222L578 1230.8L580.9 1243.9L569.4 1237L557.9 1243.9L560.8 1230.8L550.8 1222L564.1 1220.7zM582.2 1206L587.5 1218.3L600.8 1219.6L590.8 1228.4L593.7 1241.5L582.2 1234.6L570.7 1241.5L573.6 1228.4L563.5 1219.6L576.9 1218.3zM595.1 1204.3L600.4 1216.6L613.7 1217.8L603.6 1226.7L606.6 1239.7L595.1 1232.9L583.5 1239.7L586.5 1226.7L576.4 1217.8L589.8 1216.6zM608 1203.2L613.3 1215.5L626.7 1216.8L616.6 1225.6L619.5 1238.7L608 1231.8L596.5 1238.7L599.4 1225.6L589.4 1216.8L602.7 1215.5zM621 1202.9L626.3 1215.2L639.7 1216.4L629.6 1225.3L632.5 1238.4L621 1231.5L609.5 1238.4L612.4 1225.3L602.4 1216.4L615.7 1215.2zM634 1203.3L639.3 1215.6L652.6 1216.8L642.6 1225.7L645.5 1238.7L634 1231.9L622.5 1238.7L625.4 1225.7L615.4 1216.8L628.7 1215.6zM647 1204.4L652.3 1216.7L665.6 1218L655.5 1226.8L658.5 1239.9L647 1233L635.4 1239.9L638.4 1226.8L628.3 1218L641.7 1216.7zM659.8 1206.3L665.1 1218.6L678.5 1219.8L668.4 1228.7L671.3 1241.7L659.8 1234.9L648.3 1241.7L651.2 1228.7L641.2 1219.8L654.5 1218.6zM672.3 1208.9L677.6 1221.2L690.9 1222.4L680.8 1231.2L683.8 1244.3L672.3 1237.5L660.7 1244.3L663.7 1231.2L653.6 1222.4L667 1221.2zM684.2 1212.1L689.5 1224.4L702.9 1225.6L692.8 1234.4L695.8 1247.5L684.2 1240.7L672.7 1247.5L675.7 1234.4L665.6 1225.6L678.9 1224.4zM695.7 1215.9L701 1228.2L714.3 1229.4L704.3 1238.2L707.2 1251.3L695.7 1244.5L684.2 1251.3L687.1 1238.2L677.1 1229.4L690.4 1228.2zM706.6 1220.2L711.9 1232.5L725.3 1233.8L715.2 1242.6L718.2 1255.7L706.6 1248.8L695.1 1255.7L698.1 1242.6L688 1233.8L701.3 1232.5zM717 1225.1L722.3 1237.4L735.7 1238.6L725.6 1247.5L728.5 1260.5L717 1253.7L705.5 1260.5L708.5 1247.5L698.4 1238.6L711.7 1237.4zM726.9 1230.4L732.2 1242.7L745.5 1243.9L735.4 1252.8L738.4 1265.9L726.9 1259L715.3 1265.9L718.3 1252.8L708.2 1243.9L721.6 1242.7zM736.2 1236.1L741.5 1248.4L754.8 1249.7L744.7 1258.5L747.7 1271.6L736.2 1264.7L724.6 1271.6L727.6 1258.5L717.5 1249.7L730.9 1248.4zM744.9 1242.2L750.2 1254.5L763.5 1255.7L753.5 1264.6L756.4 1277.6L744.9 1270.8L733.4 1277.6L736.3 1264.6L726.2 1255.7L739.6 1254.5zM753.1 1248.5L758.4 1260.8L771.7 1262.1L761.6 1270.9L764.6 1284L753.1 1277.2L741.6 1284L744.5 1270.9L734.4 1262.1L747.8 1260.8zM760.7 1255.1L766 1267.4L779.4 1268.7L769.3 1277.5L772.3 1290.6L760.7 1283.7L749.2 1290.6L752.2 1277.5L742.1 1268.7L755.4 1267.4zM767.8 1261.9L773.1 1274.2L786.5 1275.4L776.4 1284.3L779.4 1297.3L767.8 1290.5L756.3 1297.3L759.3 1284.3L749.2 1275.4L762.5 1274.2zM774.4 1268.7L779.7 1281L793 1282.2L783 1291.1L785.9 1304.2L774.4 1297.3L762.9 1304.2L765.8 1291.1L755.8 1282.2L769.1 1281zM780.4 1275.6L785.7 1287.9L799.1 1289.1L789 1298L791.9 1311.1L780.4 1304.2L768.9 1311.1L771.8 1298L761.8 1289.1L775.1 1287.9zM785.9 1282.5L791.2 1294.8L804.6 1296.1L794.5 1304.9L797.5 1318L785.9 1311.1L774.4 1318L777.4 1304.9L767.3 1296.1L780.6 1294.8zM791 1289.4L796.3 1301.7L809.6 1303L799.6 1311.8L802.5 1324.9L791 1318L779.5 1324.9L782.4 1311.8L772.3 1303L785.7 1301.7zM795.6 1296.3L800.9 1308.6L814.2 1309.8L804.1 1318.7L807.1 1331.7L795.6 1324.9L784 1331.7L787 1318.7L776.9 1309.8L790.3 1308.6zM799.7 1303.1L805 1315.4L818.3 1316.7L808.3 1325.5L811.2 1338.6L799.7 1331.7L788.2 1338.6L791.1 1325.5L781.1 1316.7L794.4 1315.4zM803.4 1309.9L808.7 1322.2L822.1 1323.4L812 1332.3L815 1345.3L803.4 1338.5L791.9 1345.3L794.9 1332.3L784.8 1323.4L798.1 1322.2zM806.8 1316.5L812.1 1328.9L825.4 1330.1L815.3 1338.9L818.3 1352L806.8 1345.2L795.2 1352L798.2 1338.9L788.1 1330.1L801.5 1328.9zM809.7 1323.1L815 1335.4L828.4 1336.7L818.3 1345.5L821.2 1358.6L809.7 1351.7L798.2 1358.6L801.1 1345.5L791.1 1336.7L804.4 1335.4zM812.3 1329.6L817.6 1341.9L831 1343.1L820.9 1352L823.9 1365L812.3 1358.2L800.8 1365L803.8 1352L793.7 1343.1L807 1341.9zM814.6 1335.9L819.9 1348.2L833.3 1349.5L823.2 1358.3L826.1 1371.4L814.6 1364.5L803.1 1371.4L806 1358.3L796 1349.5L809.3 1348.2zM816.6 1342.1L821.9 1354.4L835.2 1355.7L825.1 1364.5L828.1 1377.6L816.6 1370.7L805.1 1377.6L808 1364.5L797.9 1355.7L811.3 1354.4zM818.2 1348.2L823.5 1360.5L836.9 1361.7L826.8 1370.6L829.8 1383.6L818.2 1376.8L806.7 1383.6L809.7 1370.6L799.6 1361.7L812.9 1360.5z" fill="#8c8c00"/>
<path d="M343 1381 L345.9 1377.6 L348.8 1374.3 L351.7 1371 L354.7 1367.6 L357.7 1364.3 L360.7 1361 L363.7 1357.8 L366.7 1354.5 L369.8 1351.3 L372.9 1348 L376 1344.8 L379.2 1341.7 L382.4 1338.5 L385.6 1335.4 L388.8 1332.2 L392 1329.1 L395.3 1326.1 L398.6 1323 L401.9 1320 L405.3 1317 L408.6 1314.1 L412 1311.1 L415.5 1308.2 L418.9 1305.4 L422.4 1302.5 L425.9 1299.7 L429.4 1296.9 L433 1294.2 L436.6 1291.5 L440.2 1288.8 L443.8 1286.2 L447.5 1283.6 L451.1 1281 L454.9 1278.5 L458.6 1276.1 L462.4 1273.6 L466.1 1271.2 L470 1268.9 L473.8 1266.6 L477.7 1264.3 L481.6 1262.1 L485.5 1259.9 L489.5 1257.8 L493.5 1255.7 L497.5 1253.7 L501.5 1251.7 L505.6 1249.8 L509.7 1247.9 L513.8 1246.1 L517.9 1244.3 L522.1 1242.6 L526.3 1241 L530.5 1239.4 L534.7 1237.9 L539 1236.4 L543.3 1235 L547.5 1233.7 L551.9 1232.4 L556.2 1231.2 L560.5 1230.1 L564.9 1229 L569.3 1228.1 L573.7 1227.2 L578.1 1226.3 L582.5 1225.6 L586.9 1224.9 L591.3 1224.3 L595.8 1223.8 L600.2 1223.4 L604.7 1223 L609.2 1222.8 L613.6 1222.6 L618.1 1222.5 L622.5 1222.5 L627 1222.6 L631.5 1222.8 L635.9 1223 L640.4 1223.3 L644.8 1223.8 L649.2 1224.3 L653.6 1224.9 L658 1225.6 L662.4 1226.4 L666.8 1227.2 L671.1 1228.2 L675.4 1229.2 L679.7 1230.4 L684 1231.6 L688.2 1232.9 L692.4 1234.3 L696.6 1235.8 L700.8 1237.4 L704.9 1239.1 L709 1240.8 L713 1242.7 L717 1244.7 L720.9 1246.7 L724.9 1248.9 L728.7 1251.1 L732.6 1253.4 L736.3 1255.8 L740.1 1258.4 L743.7 1260.9 L747.3 1263.6 L750.9 1266.4 L754.4 1269.2 L757.8 1272.2 L761.2 1275.2 L764.5 1278.2 L767.8 1281.4 L770.9 1284.6 L774 1287.9 L777 1291.2 L780 1294.7 L782.9 1298.2 L785.6 1301.7 L788.4 1305.3 L791 1309 L793.5 1312.7 L796 1316.5 L798.3 1320.4 L800.6 1324.3 L802.8 1328.2 L804.8 1332.2 L806.8 1336.2 L808.7 1340.3 L810.5 1344.4 L812.1 1348.6 L813.7 1352.8 L815.1 1357.1 L816.5 1361.3 L817.7 1365.7 L818.8 1370" fill="none" stroke="#ff0000" stroke-width="10" stroke-linecap="round" stroke-linejoin="round"/>
<g fill="url(#sph)"><circle cx="726.2" cy="1372.6" r="16.3"/><circle cx="725.9" cy="1369.5" r="16.3"/><circle cx="725.4" cy="1366.4" r="16.3"/><circle cx="724.9" cy="1363.3" r="16.3"/><circle cx="724.2" cy="1360.1" r="16.3"/><circle cx="723.5" cy="1356.8" r="16.3"/><circle cx="722.7" cy="1353.5" r="16.3"/><circle cx="721.7" cy="1350.1" r="16.3"/><circle cx="720.7" cy="1346.7" r="16.3"/><circle cx="719.5" cy="1343.3" r="16.3"/><circle cx="718.2" cy="1339.8" r="16.3"/><circle cx="716.7" cy="1336.3" r="16.3"/><circle cx="715.2" cy="1332.8" r="16.3"/><circle cx="713.4" cy="1329.3" r="16.3"/><circle cx="711.5" cy="1325.7" r="16.3"/><circle cx="709.5" cy="1322.1" r="16.3"/><circle cx="707.3" cy="1318.6" r="16.3"/><circle cx="704.9" cy="1315" r="16.3"/><circle cx="702.3" cy="1311.5" r="16.3"/><circle cx="699.6" cy="1307.9" r="16.3"/><circle cx="696.6" cy="1304.4" r="16.3"/><circle cx="693.5" cy="1301" r="16.3"/><circle cx="690.2" cy="1297.6" r="16.3"/><circle cx="686.7" cy="1294.2" r="16.3"/><circle cx="683" cy="1290.9" r="16.3"/><circle cx="679.1" cy="1287.7" r="16.3"/><circle cx="674.9" cy="1284.6" r="16.3"/><circle cx="670.6" cy="1281.6" r="16.3"/><circle cx="666.1" cy="1278.6" r="16.3"/><circle cx="661.3" cy="1275.9" r="16.3"/><circle cx="656.4" cy="1273.2" r="16.3"/><circle cx="651.3" cy="1270.7" r="16.3"/><circle cx="645.9" cy="1268.3" r="16.3"/><circle cx="640.4" cy="1266" r="16.3"/><circle cx="634.7" cy="1264" r="16.3"/><circle cx="628.8" cy="1262.1" r="16.3"/><circle cx="622.7" cy="1260.3" r="16.3"/><circle cx="616.5" cy="1258.8" r="16.3"/><circle cx="610.1" cy="1257.5" r="16.3"/><circle cx="603.6" cy="1256.3" r="16.3"/><circle cx="597" cy="1255.4" r="16.3"/><circle cx="590.2" cy="1254.7" r="16.3"/><circle cx="583.3" cy="1254.2" r="16.3"/><circle cx="576.2" cy="1253.9" r="16.3"/><circle cx="569" cy="1253.9" r="16.3"/><circle cx="561.7" cy="1254.1" r="16.3"/><circle cx="554.3" cy="1254.6" r="16.3"/><circle cx="546.8" cy="1255.3" r="16.3"/><circle cx="539.2" cy="1256.3" r="16.3"/><circle cx="531.5" cy="1257.6" r="16.3"/><circle cx="523.7" cy="1259.1" r="16.3"/><circle cx="516" cy="1260.9" r="16.3"/><circle cx="508.5" cy="1263" r="16.3"/><circle cx="501.1" cy="1265.2" r="16.3"/><circle cx="494" cy="1267.6" r="16.3"/><circle cx="487" cy="1270.2" r="16.3"/><circle cx="480.2" cy="1272.9" r="16.3"/><circle cx="473.5" cy="1275.7" r="16.3"/><circle cx="467.1" cy="1278.6" r="16.3"/><circle cx="460.8" cy="1281.7" r="16.3"/><circle cx="454.7" cy="1284.8" r="16.3"/><circle cx="448.8" cy="1288" r="16.3"/><circle cx="443" cy="1291.3" r="16.3"/><circle cx="437.4" cy="1294.7" r="16.3"/><circle cx="432" cy="1298.1" r="16.3"/><circle cx="426.7" cy="1301.5" r="16.3"/><circle cx="421.6" cy="1305" r="16.3"/><circle cx="416.6" cy="1308.5" r="16.3"/><circle cx="411.7" cy="1312.1" r="16.3"/><circle cx="407.1" cy="1315.6" r="16.3"/><circle cx="402.6" cy="1319.2" r="16.3"/><circle cx="398.3" cy="1322.6" r="16.3"/><circle cx="394.2" cy="1326.1" r="16.3"/><circle cx="390.3" cy="1329.4" r="16.3"/><circle cx="386.6" cy="1332.8" r="16.3"/><circle cx="383" cy="1336.1" r="16.3"/><circle cx="379.5" cy="1339.3" r="16.3"/><circle cx="376.2" cy="1342.5" r="16.3"/><circle cx="373" cy="1345.6" r="16.3"/><circle cx="370" cy="1348.7" r="16.3"/><circle cx="367.1" cy="1351.7" r="16.3"/><circle cx="364.3" cy="1354.7" r="16.3"/><circle cx="361.6" cy="1357.6" r="16.3"/><circle cx="359.1" cy="1360.4" r="16.3"/><circle cx="356.6" cy="1363.2" r="16.3"/><circle cx="354.2" cy="1365.9" r="16.3"/><circle cx="352" cy="1368.6" r="16.3"/><circle cx="349.8" cy="1371.2" r="16.3"/><circle cx="347.7" cy="1373.7" r="16.3"/><circle cx="345.7" cy="1376.2" r="16.3"/><circle cx="343.8" cy="1378.6" r="16.3"/><circle cx="342" cy="1381" r="16.3"/></g>
<path d="M342 1381 L344.1 1378.2 L346.3 1375.5 L348.6 1372.7 L350.8 1370 L353.1 1367.2 L355.4 1364.5 L357.8 1361.8 L360.2 1359.1 L362.6 1356.5 L365.1 1353.8 L367.6 1351.2 L370.1 1348.6 L372.6 1346 L375.2 1343.5 L377.8 1340.9 L380.5 1338.4 L383.2 1335.9 L385.9 1333.4 L388.6 1331 L391.4 1328.5 L394.2 1326.1 L397 1323.7 L399.8 1321.4 L402.7 1319.1 L405.6 1316.8 L408.5 1314.5 L411.5 1312.3 L414.5 1310.1 L417.5 1307.9 L420.5 1305.8 L423.5 1303.7 L426.6 1301.6 L429.7 1299.6 L432.8 1297.5 L436 1295.6 L439.1 1293.6 L442.3 1291.7 L445.5 1289.9 L448.7 1288.1 L452 1286.3 L455.2 1284.5 L458.5 1282.8 L461.8 1281.2 L465.1 1279.6 L468.5 1278 L471.8 1276.4 L475.2 1275 L478.6 1273.5 L482 1272.1 L485.4 1270.8 L488.8 1269.4 L492.3 1268.2 L495.8 1267 L499.2 1265.8 L502.7 1264.7 L506.2 1263.6 L509.8 1262.6 L513.3 1261.7 L516.8 1260.7 L520.4 1259.9 L523.9 1259.1 L527.5 1258.3 L531.1 1257.6 L534.7 1257 L538.3 1256.4 L541.9 1255.9 L545.5 1255.4 L549.1 1255 L552.8 1254.7 L556.4 1254.4 L560.1 1254.2 L563.7 1254 L567.4 1253.9 L571.1 1253.9 L574.7 1253.9 L578.4 1254 L582.1 1254.1 L585.7 1254.3 L589.4 1254.6 L593.1 1255 L596.7 1255.4 L600.3 1255.9 L604 1256.4 L607.6 1257 L611.2 1257.7 L614.8 1258.4 L618.3 1259.2 L621.9 1260.1 L625.4 1261.1 L628.9 1262.1 L632.3 1263.2 L635.8 1264.3 L639.2 1265.6 L642.5 1266.9 L645.9 1268.2 L649.2 1269.7 L652.4 1271.2 L655.6 1272.8 L658.8 1274.4 L661.9 1276.2 L665 1278 L668 1279.9 L671 1281.8 L673.9 1283.9 L676.8 1286 L679.6 1288.1 L682.4 1290.4 L685.1 1292.7 L687.7 1295.1 L690.3 1297.6 L692.8 1300.2 L695.2 1302.8 L697.5 1305.5 L699.8 1308.2 L702 1311.1 L704.1 1314 L706.2 1316.9 L708.2 1320 L710 1323.1 L711.8 1326.3 L713.5 1329.5 L715.1 1332.8 L716.7 1336.2 L718.1 1339.6 L719.4 1343.1 L720.7 1346.6 L721.8 1350.3 L722.8 1353.9 L723.7 1357.7 L724.5 1361.5 L725.2 1365.3 L725.8 1369.2 L726.3 1373.2" fill="none" stroke="#ff0000" stroke-width="10" stroke-linecap="round" stroke-linejoin="round"/>
<path d="M340 1363L355.6 1372L355.6 1390L340 1399L324.4 1390L324.4 1372zM342 1360.7L357.6 1369.7L357.6 1387.7L342 1396.7L326.4 1387.7L326.4 1369.7zM344 1358.4L359.6 1367.4L359.6 1385.4L344 1394.4L328.4 1385.4L328.4 1367.4zM346.1 1356.1L361.7 1365.1L361.7 1383.1L346.1 1392.1L330.6 1383.1L330.6 1365.1zM348.3 1353.7L363.9 1362.7L363.9 1380.7L348.3 1389.7L332.7 1380.7L332.7 1362.7zM350.6 1351.3L366.2 1360.3L366.2 1378.3L350.6 1387.3L335 1378.3L335 1360.3zM352.9 1348.8L368.5 1357.8L368.5 1375.8L352.9 1384.8L337.4 1375.8L337.4 1357.8zM355.4 1346.3L371 1355.3L371 1373.3L355.4 1382.3L339.8 1373.3L339.8 1355.3zM357.9 1343.8L373.5 1352.8L373.5 1370.8L357.9 1379.8L342.3 1370.8L342.3 1352.8zM360.5 1341.2L376.1 1350.2L376.1 1368.2L360.5 1377.2L344.9 1368.2L344.9 1350.2zM363.2 1338.5L378.7 1347.5L378.7 1365.5L363.2 1374.5L347.6 1365.5L347.6 1347.5zM365.9 1335.9L381.5 1344.9L381.5 1362.9L365.9 1371.9L350.3 1362.9L350.3 1344.9zM368.8 1333.1L384.4 1342.1L384.4 1360.1L368.8 1369.1L353.2 1360.1L353.2 1342.1zM371.8 1330.4L387.4 1339.4L387.4 1357.4L371.8 1366.4L356.2 1357.4L356.2 1339.4zM374.9 1327.6L390.5 1336.6L390.5 1354.6L374.9 1363.6L359.3 1354.6L359.3 1336.6zM378.1 1324.8L393.7 1333.8L393.7 1351.8L378.1 1360.8L362.5 1351.8L362.5 1333.8zM381.4 1321.9L397 1330.9L397 1348.9L381.4 1357.9L365.8 1348.9L365.8 1330.9zM384.8 1319L400.4 1328L400.4 1346L384.8 1355L369.3 1346L369.3 1328zM388.4 1316.1L404 1325.1L404 1343.1L388.4 1352.1L372.8 1343.1L372.8 1325.1zM392.1 1313.1L407.7 1322.1L407.7 1340.1L392.1 1349.1L376.5 1340.1L376.5 1322.1zM395.9 1310.2L411.5 1319.2L411.5 1337.2L395.9 1346.2L380.3 1337.2L380.3 1319.2zM399.9 1307.2L415.5 1316.2L415.5 1334.2L399.9 1343.2L384.3 1334.2L384.3 1316.2zM404 1304.2L419.6 1313.2L419.6 1331.2L404 1340.2L388.4 1331.2L388.4 1313.2zM408.3 1301.2L423.9 1310.2L423.9 1328.2L408.3 1337.2L392.7 1328.2L392.7 1310.2zM412.7 1298.3L428.2 1307.3L428.2 1325.3L412.7 1334.3L397.1 1325.3L397.1 1307.3zM417.2 1295.4L432.8 1304.4L432.8 1322.4L417.2 1331.4L401.6 1322.4L401.6 1304.4zM421.9 1292.5L437.4 1301.5L437.4 1319.5L421.9 1328.5L406.3 1319.5L406.3 1301.5zM426.7 1289.6L442.3 1298.6L442.3 1316.6L426.7 1325.6L411.1 1316.6L411.1 1298.6zM431.7 1286.8L447.3 1295.8L447.3 1313.8L431.7 1322.8L416.1 1313.8L416.1 1295.8zM436.8 1284L452.4 1293L452.4 1311L436.8 1320L421.2 1311L421.2 1293zM442.2 1281.3L457.8 1290.3L457.8 1308.3L442.2 1317.3L426.6 1308.3L426.6 1290.3zM447.7 1278.7L463.3 1287.7L463.3 1305.7L447.7 1314.7L432.1 1305.7L432.1 1287.7zM453.4 1276.2L468.9 1285.2L468.9 1303.2L453.4 1312.2L437.8 1303.2L437.8 1285.2zM459.2 1273.8L474.8 1282.8L474.8 1300.8L459.2 1309.8L443.6 1300.8L443.6 1282.8zM465.3 1271.6L480.9 1280.6L480.9 1298.6L465.3 1307.6L449.7 1298.6L449.7 1280.6zM471.6 1269.5L487.2 1278.5L487.2 1296.5L471.6 1305.5L456 1296.5L456 1278.5zM478 1267.6L493.6 1276.6L493.6 1294.6L478 1303.6L462.4 1294.6L462.4 1276.6zM484.7 1265.8L500.3 1274.8L500.3 1292.8L484.7 1301.8L469.1 1292.8L469.1 1274.8zM491.5 1264.4L507.1 1273.4L507.1 1291.4L491.5 1300.4L475.9 1291.4L475.9 1273.4zM498.2 1263.2L513.8 1272.2L513.8 1290.2L498.2 1299.2L482.7 1290.2L482.7 1272.2zM504.9 1262.3L520.5 1271.3L520.5 1289.3L504.9 1298.3L489.3 1289.3L489.3 1271.3zM511.4 1261.7L527 1270.7L527 1288.7L511.4 1297.7L495.8 1288.7L495.8 1270.7zM517.8 1261.4L533.4 1270.4L533.4 1288.4L517.8 1297.4L502.3 1288.4L502.3 1270.4zM524.1 1261.3L539.7 1270.3L539.7 1288.3L524.1 1297.3L508.5 1288.3L508.5 1270.3zM530.3 1261.4L545.9 1270.4L545.9 1288.4L530.3 1297.4L514.7 1288.4L514.7 1270.4zM536.3 1261.8L551.9 1270.8L551.9 1288.8L536.3 1297.8L520.7 1288.8L520.7 1270.8zM542.2 1262.4L557.8 1271.4L557.8 1289.4L542.2 1298.4L526.6 1289.4L526.6 1271.4zM548 1263.2L563.5 1272.2L563.5 1290.2L548 1299.2L532.4 1290.2L532.4 1272.2zM553.5 1264.2L569.1 1273.2L569.1 1291.2L553.5 1300.2L538 1291.2L538 1273.2zM559 1265.4L574.6 1274.4L574.6 1292.4L559 1301.4L543.4 1292.4L543.4 1274.4zM564.3 1266.8L579.8 1275.8L579.8 1293.8L564.3 1302.8L548.7 1293.8L548.7 1275.8zM569.4 1268.3L585 1277.3L585 1295.3L569.4 1304.3L553.8 1295.3L553.8 1277.3zM574.3 1270L589.9 1279L589.9 1297L574.3 1306L558.7 1297L558.7 1279zM579.1 1271.8L594.7 1280.8L594.7 1298.8L579.1 1307.8L563.5 1298.8L563.5 1280.8zM583.7 1273.8L599.3 1282.8L599.3 1300.8L583.7 1309.8L568.1 1300.8L568.1 1282.8zM588.2 1275.9L603.8 1284.9L603.8 1302.9L588.2 1311.9L572.6 1302.9L572.6 1284.9zM592.5 1278.1L608.1 1287.1L608.1 1305.1L592.5 1314.1L576.9 1305.1L576.9 1287.1zM596.6 1280.5L612.2 1289.5L612.2 1307.5L596.6 1316.5L581 1307.5L581 1289.5zM600.6 1283L616.2 1292L616.2 1310L600.6 1319L585 1310L585 1292zM604.4 1285.6L620 1294.6L620 1312.6L604.4 1321.6L588.8 1312.6L588.8 1294.6zM608 1288.3L623.6 1297.3L623.6 1315.3L608 1324.3L592.4 1315.3L592.4 1297.3zM611.5 1291L627.1 1300L627.1 1318L611.5 1327L595.9 1318L595.9 1300zM614.8 1293.9L630.4 1302.9L630.4 1320.9L614.8 1329.9L599.2 1320.9L599.2 1302.9zM617.9 1296.8L633.5 1305.8L633.5 1323.8L617.9 1332.8L602.4 1323.8L602.4 1305.8zM620.9 1299.8L636.5 1308.8L636.5 1326.8L620.9 1335.8L605.3 1326.8L605.3 1308.8zM623.7 1302.8L639.3 1311.8L639.3 1329.8L623.7 1338.8L608.2 1329.8L608.2 1311.8zM626.4 1305.9L642 1314.9L642 1332.9L626.4 1341.9L610.8 1332.9L610.8 1314.9zM628.9 1309.1L644.5 1318.1L644.5 1336.1L628.9 1345.1L613.3 1336.1L613.3 1318.1zM631.2 1312.2L646.8 1321.2L646.8 1339.2L631.2 1348.2L615.7 1339.2L615.7 1321.2zM633.4 1315.4L649 1324.4L649 1342.4L633.4 1351.4L617.9 1342.4L617.9 1324.4zM635.5 1318.7L651.1 1327.7L651.1 1345.7L635.5 1354.7L619.9 1345.7L619.9 1327.7zM637.4 1321.9L653 1330.9L653 1348.9L637.4 1357.9L621.8 1348.9L621.8 1330.9zM639.1 1325.1L654.7 1334.1L654.7 1352.1L639.1 1361.1L623.5 1352.1L623.5 1334.1zM640.7 1328.4L656.3 1337.4L656.3 1355.4L640.7 1364.4L625.1 1355.4L625.1 1337.4zM642.2 1331.6L657.8 1340.6L657.8 1358.6L642.2 1367.6L626.6 1358.6L626.6 1340.6zM643.6 1334.8L659.1 1343.8L659.1 1361.8L643.6 1370.8L628 1361.8L628 1343.8zM644.8 1338L660.4 1347L660.4 1365L644.8 1374L629.2 1365L629.2 1347zM645.9 1341.2L661.4 1350.2L661.4 1368.2L645.9 1377.2L630.3 1368.2L630.3 1350.2zM646.8 1344.4L662.4 1353.4L662.4 1371.4L646.8 1380.4L631.2 1371.4L631.2 1353.4zM647.7 1347.6L663.3 1356.6L663.3 1374.6L647.7 1383.6L632.1 1374.6L632.1 1356.6zM648.4 1350.7L664 1359.7L664 1377.7L648.4 1386.7L632.8 1377.7L632.8 1359.7zM649.1 1353.8L664.6 1362.8L664.6 1380.8L649.1 1389.8L633.5 1380.8L633.5 1362.8zM649.6 1356.8L665.2 1365.8L665.2 1383.8L649.6 1392.8L634 1383.8L634 1365.8z" fill="#ffff00"/>
<path d="M340 1381 L341.8 1378.9 L343.7 1376.8 L345.6 1374.7 L347.5 1372.6 L349.5 1370.5 L351.4 1368.4 L353.4 1366.3 L355.4 1364.3 L357.5 1362.2 L359.5 1360.1 L361.6 1358.1 L363.7 1356 L365.8 1354 L367.9 1352 L370.1 1350 L372.3 1348 L374.5 1346 L376.7 1344 L378.9 1342 L381.2 1340.1 L383.5 1338.2 L385.7 1336.3 L388.1 1334.4 L390.4 1332.5 L392.7 1330.6 L395.1 1328.8 L397.5 1327 L399.9 1325.2 L402.3 1323.4 L404.8 1321.7 L407.2 1320 L409.7 1318.3 L412.2 1316.6 L414.7 1315 L417.2 1313.3 L419.7 1311.8 L422.3 1310.2 L424.8 1308.7 L427.4 1307.2 L430 1305.7 L432.6 1304.2 L435.3 1302.8 L437.9 1301.5 L440.6 1300.1 L443.2 1298.8 L445.9 1297.5 L448.6 1296.3 L451.3 1295.1 L454 1293.9 L456.7 1292.8 L459.5 1291.7 L462.2 1290.7 L465 1289.7 L467.8 1288.7 L470.6 1287.8 L473.4 1286.9 L476.2 1286.1 L479 1285.3 L481.8 1284.5 L484.7 1283.9 L487.5 1283.2 L490.4 1282.6 L493.3 1282 L496.1 1281.5 L499 1281.1 L501.9 1280.7 L504.8 1280.3 L507.8 1280 L510.7 1279.8 L513.6 1279.6 L516.5 1279.4 L519.5 1279.3 L522.4 1279.3 L525.4 1279.3 L528.3 1279.4 L531.2 1279.5 L534.2 1279.7 L537.1 1279.9 L540 1280.2 L542.9 1280.5 L545.8 1280.9 L548.7 1281.4 L551.6 1281.9 L554.5 1282.4 L557.4 1283.1 L560.2 1283.7 L563 1284.5 L565.8 1285.2 L568.6 1286.1 L571.4 1287 L574.1 1287.9 L576.9 1288.9 L579.6 1290 L582.2 1291.1 L584.9 1292.3 L587.5 1293.6 L590.1 1294.9 L592.6 1296.2 L595.1 1297.6 L597.6 1299.1 L600 1300.6 L602.5 1302.2 L604.8 1303.9 L607.2 1305.6 L609.4 1307.4 L611.7 1309.2 L613.9 1311.1 L616 1313 L618.1 1315 L620.2 1317 L622.2 1319.1 L624.1 1321.3 L626 1323.5 L627.9 1325.8 L629.7 1328.1 L631.4 1330.4 L633 1332.8 L634.6 1335.3 L636.2 1337.8 L637.6 1340.3 L639 1342.9 L640.4 1345.6 L641.6 1348.3 L642.8 1351 L643.9 1353.8 L645 1356.6 L645.9 1359.5 L646.8 1362.4 L647.6 1365.3 L648.3 1368.3 L649 1371.3 L649.5 1374.4 L650 1377.5" fill="none" stroke="#ff0000" stroke-width="10" stroke-linecap="round" stroke-linejoin="round"/>
<path d="M337 1361.4L342.3 1373.7L355.6 1374.9L345.6 1383.8L348.5 1396.9L337 1390L325.5 1396.9L328.4 1383.8L318.4 1374.9L331.7 1373.7zM337.7 1360.1L343 1372.4L356.3 1373.6L346.2 1382.4L349.2 1395.5L337.7 1388.7L326.1 1395.5L329.1 1382.4L319 1373.6L332.4 1372.4zM338.3 1358.7L343.6 1371L357 1372.3L346.9 1381.1L349.9 1394.2L338.3 1387.3L326.8 1394.2L329.8 1381.1L319.7 1372.3L333 1371zM339.1 1357.4L344.4 1369.7L357.7 1371L347.7 1379.8L350.6 1392.9L339.1 1386L327.6 1392.9L330.5 1379.8L320.4 1371L333.8 1369.7zM339.8 1356.1L345.1 1368.4L358.5 1369.7L348.4 1378.5L351.4 1391.6L339.8 1384.7L328.3 1391.6L331.3 1378.5L321.2 1369.7L334.5 1368.4zM340.6 1354.9L345.9 1367.2L359.3 1368.4L349.2 1377.2L352.2 1390.3L340.6 1383.5L329.1 1390.3L332.1 1377.2L322 1368.4L335.3 1367.2zM341.5 1353.6L346.8 1365.9L360.1 1367.1L350.1 1376L353 1389.1L341.5 1382.2L330 1389.1L332.9 1376L322.8 1367.1L336.2 1365.9zM342.3 1352.4L347.6 1364.7L361 1365.9L350.9 1374.8L353.9 1387.8L342.3 1381L330.8 1387.8L333.8 1374.8L323.7 1365.9L337 1364.7zM343.2 1351.2L348.5 1363.5L361.9 1364.7L351.8 1373.6L354.8 1386.6L343.2 1379.8L331.7 1386.6L334.7 1373.6L324.6 1364.7L337.9 1363.5zM344.2 1350L349.5 1362.3L362.8 1363.5L352.7 1372.4L355.7 1385.5L344.2 1378.6L332.6 1385.5L335.6 1372.4L325.5 1363.5L338.9 1362.3zM345.1 1348.8L350.4 1361.1L363.8 1362.4L353.7 1371.2L356.6 1384.3L345.1 1377.5L333.6 1384.3L336.5 1371.2L326.5 1362.4L339.8 1361.1zM346.1 1347.7L351.4 1360L364.7 1361.2L354.7 1370.1L357.6 1383.2L346.1 1376.3L334.6 1383.2L337.5 1370.1L327.5 1361.2L340.8 1360zM347.1 1346.6L352.4 1358.9L365.7 1360.1L355.7 1369L358.6 1382L347.1 1375.2L335.6 1382L338.5 1369L328.5 1360.1L341.8 1358.9zM348.1 1345.5L353.4 1357.8L366.8 1359L356.7 1367.9L359.7 1381L348.1 1374.1L336.6 1381L339.6 1367.9L329.5 1359L342.8 1357.8zM349.2 1344.4L354.5 1356.7L367.8 1358L357.8 1366.8L360.7 1379.9L349.2 1373L337.7 1379.9L340.6 1366.8L330.5 1358L343.9 1356.7zM350.3 1343.4L355.6 1355.7L368.9 1356.9L358.8 1365.8L361.8 1378.8L350.3 1372L338.7 1378.8L341.7 1365.8L331.6 1356.9L345 1355.7zM351.4 1342.4L356.7 1354.7L370 1355.9L359.9 1364.8L362.9 1377.8L351.4 1371L339.8 1377.8L342.8 1364.8L332.7 1355.9L346.1 1354.7zM352.5 1341.4L357.8 1353.7L371.1 1354.9L361.1 1363.8L364 1376.8L352.5 1370L341 1376.8L343.9 1363.8L333.8 1354.9L347.2 1353.7zM353.6 1340.4L358.9 1352.7L372.3 1353.9L362.2 1362.8L365.1 1375.8L353.6 1369L342.1 1375.8L345 1362.8L335 1353.9L348.3 1352.7zM354.8 1339.4L360.1 1351.7L373.4 1353L363.4 1361.8L366.3 1374.9L354.8 1368.1L343.3 1374.9L346.2 1361.8L336.1 1353L349.5 1351.7zM356 1338.5L361.3 1350.8L374.6 1352L364.5 1360.9L367.5 1374L356 1367.1L344.4 1374L347.4 1360.9L337.3 1352L350.7 1350.8zM357.1 1337.6L362.4 1349.9L375.8 1351.1L365.7 1360L368.7 1373.1L357.1 1366.2L345.6 1373.1L348.6 1360L338.5 1351.1L351.8 1349.9zM358.4 1336.7L363.7 1349L377 1350.2L366.9 1359.1L369.9 1372.2L358.4 1365.3L346.8 1372.2L349.8 1359.1L339.7 1350.2L353.1 1349zM359.6 1335.8L364.9 1348.1L378.2 1349.4L368.2 1358.2L371.1 1371.3L359.6 1364.5L348.1 1371.3L351 1358.2L340.9 1349.4L354.3 1348.1zM360.8 1335L366.1 1347.3L379.5 1348.5L369.4 1357.4L372.3 1370.5L360.8 1363.6L349.3 1370.5L352.2 1357.4L342.2 1348.5L355.5 1347.3zM362.1 1334.2L367.4 1346.5L380.7 1347.7L370.6 1356.6L373.6 1369.6L362.1 1362.8L350.6 1369.6L353.5 1356.6L343.4 1347.7L356.8 1346.5zM363.3 1333.4L368.6 1345.7L382 1346.9L371.9 1355.8L374.9 1368.8L363.3 1362L351.8 1368.8L354.8 1355.8L344.7 1346.9L358 1345.7zM364.6 1332.6L369.9 1344.9L383.3 1346.1L373.2 1355L376.1 1368.1L364.6 1361.2L353.1 1368.1L356 1355L346 1346.1L359.3 1344.9zM365.9 1331.8L371.2 1344.1L384.6 1345.4L374.5 1354.2L377.4 1367.3L365.9 1360.5L354.4 1367.3L357.3 1354.2L347.3 1345.4L360.6 1344.1zM367.2 1331.1L372.5 1343.4L385.9 1344.6L375.8 1353.5L378.7 1366.6L367.2 1359.7L355.7 1366.6L358.7 1353.5L348.6 1344.6L361.9 1343.4zM368.5 1330.4L373.8 1342.7L387.2 1343.9L377.1 1352.8L380.1 1365.8L368.5 1359L357 1365.8L360 1352.8L349.9 1343.9L363.2 1342.7zM369.9 1329.7L375.2 1342L388.5 1343.2L378.4 1352.1L381.4 1365.1L369.9 1358.3L358.4 1365.1L361.3 1352.1L351.2 1343.2L364.6 1342zM371.2 1329L376.5 1341.3L389.9 1342.6L379.8 1351.4L382.7 1364.5L371.2 1357.6L359.7 1364.5L362.6 1351.4L352.6 1342.6L365.9 1341.3zM372.6 1328.4L377.9 1340.7L391.2 1341.9L381.1 1350.8L384.1 1363.8L372.6 1357L361 1363.8L364 1350.8L353.9 1341.9L367.3 1340.7zM373.9 1327.7L379.2 1340L392.6 1341.3L382.5 1350.1L385.4 1363.2L373.9 1356.4L362.4 1363.2L365.4 1350.1L355.3 1341.3L368.6 1340zM375.3 1327.1L380.6 1339.4L393.9 1340.7L383.9 1349.5L386.8 1362.6L375.3 1355.7L363.8 1362.6L366.7 1349.5L356.7 1340.7L370 1339.4zM376.7 1326.5L382 1338.8L395.3 1340.1L385.3 1348.9L388.2 1362L376.7 1355.2L365.2 1362L368.1 1348.9L358 1340.1L371.4 1338.8zM378.1 1326L383.4 1338.3L396.7 1339.5L386.6 1348.4L389.6 1361.4L378.1 1354.6L366.5 1361.4L369.5 1348.4L359.4 1339.5L372.8 1338.3zM379.5 1325.4L384.8 1337.7L398.1 1339L388 1347.8L391 1360.9L379.5 1354L367.9 1360.9L370.9 1347.8L360.8 1339L374.2 1337.7zM380.9 1324.9L386.2 1337.2L399.5 1338.4L389.4 1347.3L392.4 1360.4L380.9 1353.5L369.3 1360.4L372.3 1347.3L362.2 1338.4L375.6 1337.2zM382.3 1324.4L387.6 1336.7L400.9 1337.9L390.9 1346.8L393.8 1359.9L382.3 1353L370.8 1359.9L373.7 1346.8L363.6 1337.9L377 1336.7zM383.7 1323.9L389 1336.2L402.3 1337.5L392.3 1346.3L395.2 1359.4L383.7 1352.5L372.2 1359.4L375.1 1346.3L365.1 1337.5L378.4 1336.2zM385.1 1323.5L390.4 1335.8L403.8 1337L393.7 1345.8L396.6 1358.9L385.1 1352.1L373.6 1358.9L376.6 1345.8L366.5 1337L379.8 1335.8zM386.6 1323L391.9 1335.3L405.2 1336.6L395.1 1345.4L398.1 1358.5L386.6 1351.6L375 1358.5L378 1345.4L367.9 1336.6L381.3 1335.3zM388 1322.6L393.3 1334.9L406.6 1336.1L396.6 1345L399.5 1358L388 1351.2L376.5 1358L379.4 1345L369.4 1336.1L382.7 1334.9zM389.4 1322.2L394.7 1334.5L408.1 1335.7L398 1344.6L401 1357.7L389.4 1350.8L377.9 1357.7L380.9 1344.6L370.8 1335.7L384.1 1334.5zM390.9 1321.8L396.2 1334.1L409.5 1335.4L399.5 1344.2L402.4 1357.3L390.9 1350.4L379.4 1357.3L382.3 1344.2L372.3 1335.4L385.6 1334.1zM392.4 1321.5L397.7 1333.8L411 1335L400.9 1343.9L403.9 1356.9L392.4 1350.1L380.8 1356.9L383.8 1343.9L373.7 1335L387.1 1333.8zM393.8 1321.1L399.1 1333.4L412.5 1334.7L402.4 1343.5L405.3 1356.6L393.8 1349.7L382.3 1356.6L385.2 1343.5L375.2 1334.7L388.5 1333.4zM395.3 1320.8L400.6 1333.1L413.9 1334.4L403.9 1343.2L406.8 1356.3L395.3 1349.4L383.8 1356.3L386.7 1343.2L376.6 1334.4L390 1333.1zM396.8 1320.5L402.1 1332.8L415.4 1334.1L405.3 1342.9L408.3 1356L396.8 1349.2L385.2 1356L388.2 1342.9L378.1 1334.1L391.5 1332.8zM398.2 1320.3L403.5 1332.6L416.9 1333.8L406.8 1342.7L409.8 1355.7L398.2 1348.9L386.7 1355.7L389.7 1342.7L379.6 1333.8L392.9 1332.6zM399.7 1320L405 1332.3L418.4 1333.6L408.3 1342.4L411.2 1355.5L399.7 1348.6L388.2 1355.5L391.1 1342.4L381.1 1333.6L394.4 1332.3zM401.2 1319.8L406.5 1332.1L419.8 1333.4L409.8 1342.2L412.7 1355.3L401.2 1348.4L389.7 1355.3L392.6 1342.2L382.6 1333.4L395.9 1332.1zM402.7 1319.6L408 1331.9L421.3 1333.2L411.3 1342L414.2 1355.1L402.7 1348.2L391.2 1355.1L394.1 1342L384 1333.2L397.4 1331.9zM404.2 1319.4L409.5 1331.8L422.8 1333L412.8 1341.8L415.7 1354.9L404.2 1348.1L392.7 1354.9L395.6 1341.8L385.5 1333L398.9 1331.8zM405.7 1319.3L411 1331.6L424.3 1332.8L414.2 1341.7L417.2 1354.8L405.7 1347.9L394.2 1354.8L397.1 1341.7L387 1332.8L400.4 1331.6zM407.2 1319.2L412.5 1331.5L425.8 1332.7L415.7 1341.6L418.7 1354.6L407.2 1347.8L395.6 1354.6L398.6 1341.6L388.5 1332.7L401.9 1331.5zM408.7 1319.1L414 1331.4L427.3 1332.6L417.2 1341.5L420.2 1354.5L408.7 1347.7L397.1 1354.5L400.1 1341.5L390 1332.6L403.4 1331.4zM410.2 1319L415.5 1331.3L428.8 1332.6L418.7 1341.4L421.7 1354.5L410.2 1347.6L398.6 1354.5L401.6 1341.4L391.5 1332.6L404.9 1331.3zM411.7 1319L417 1331.3L430.3 1332.5L420.2 1341.3L423.2 1354.4L411.7 1347.6L400.1 1354.4L403.1 1341.3L393 1332.5L406.4 1331.3zM413.2 1318.9L418.5 1331.2L431.8 1332.5L421.7 1341.3L424.7 1354.4L413.2 1347.6L401.6 1354.4L404.6 1341.3L394.5 1332.5L407.9 1331.2zM414.7 1318.9L420 1331.3L433.3 1332.5L423.2 1341.3L426.2 1354.4L414.7 1347.6L403.1 1354.4L406.1 1341.3L396 1332.5L409.4 1331.3zM416.2 1319L421.5 1331.3L434.8 1332.5L424.7 1341.4L427.7 1354.4L416.2 1347.6L404.6 1354.4L407.6 1341.4L397.5 1332.5L410.9 1331.3zM417.7 1319L423 1331.3L436.3 1332.6L426.2 1341.4L429.2 1354.5L417.7 1347.7L406.1 1354.5L409.1 1341.4L399 1332.6L412.4 1331.3zM419.2 1319.1L424.5 1331.4L437.8 1332.7L427.7 1341.5L430.7 1354.6L419.2 1347.7L407.6 1354.6L410.6 1341.5L400.5 1332.7L413.9 1331.4zM420.7 1319.2L426 1331.6L439.3 1332.8L429.2 1341.6L432.2 1354.7L420.7 1347.9L409.1 1354.7L412.1 1341.6L402 1332.8L415.4 1331.6zM422.1 1319.4L427.4 1331.7L440.8 1332.9L430.7 1341.8L433.7 1354.8L422.1 1348L410.6 1354.8L413.6 1341.8L403.5 1332.9L416.8 1331.7zM423.6 1319.6L428.9 1331.9L442.3 1333.1L432.2 1342L435.2 1355L423.6 1348.2L412.1 1355L415.1 1342L405 1333.1L418.3 1331.9zM425.1 1319.8L430.4 1332.1L443.8 1333.3L433.7 1342.2L436.6 1355.2L425.1 1348.4L413.6 1355.2L416.5 1342.2L406.5 1333.3L419.8 1332.1zM426.6 1320L431.9 1332.3L445.2 1333.6L435.2 1342.4L438.1 1355.5L426.6 1348.6L415.1 1355.5L418 1342.4L408 1333.6L421.3 1332.3zM428.1 1320.3L433.4 1332.6L446.7 1333.8L436.7 1342.7L439.6 1355.7L428.1 1348.9L416.6 1355.7L419.5 1342.7L409.4 1333.8L422.8 1332.6zM429.5 1320.6L434.8 1332.9L448.2 1334.1L438.1 1343L441.1 1356L429.5 1349.2L418 1356L421 1343L410.9 1334.1L424.2 1332.9zM431 1320.9L436.3 1333.2L449.6 1334.5L439.6 1343.3L442.5 1356.4L431 1349.5L419.5 1356.4L422.4 1343.3L412.4 1334.5L425.7 1333.2zM432.5 1321.3L437.8 1333.6L451.1 1334.8L441 1343.7L444 1356.8L432.5 1349.9L420.9 1356.8L423.9 1343.7L413.8 1334.8L427.2 1333.6zM433.9 1321.7L439.2 1334L452.5 1335.2L442.5 1344.1L445.4 1357.2L433.9 1350.3L422.4 1357.2L425.3 1344.1L415.3 1335.2L428.6 1334zM435.3 1322.1L440.6 1334.4L454 1335.7L443.9 1344.5L446.9 1357.6L435.3 1350.8L423.8 1357.6L426.8 1344.5L416.7 1335.7L430 1334.4zM436.8 1322.6L442.1 1334.9L455.4 1336.2L445.3 1345L448.3 1358.1L436.8 1351.2L425.2 1358.1L428.2 1345L418.1 1336.2L431.5 1334.9zM438.2 1323.1L443.5 1335.4L456.8 1336.7L446.7 1345.5L449.7 1358.6L438.2 1351.7L426.7 1358.6L429.6 1345.5L419.5 1336.7L432.9 1335.4zM439.6 1323.7L444.9 1336L458.2 1337.2L448.1 1346.1L451.1 1359.1L439.6 1352.3L428 1359.1L431 1346.1L420.9 1337.2L434.3 1336zM441 1324.3L446.2 1336.6L459.6 1337.8L449.5 1346.6L452.5 1359.7L441 1352.9L429.4 1359.7L432.4 1346.6L422.3 1337.8L435.7 1336.6zM442.3 1324.9L447.6 1337.2L461 1338.4L450.9 1347.3L453.8 1360.3L442.3 1353.5L430.8 1360.3L433.7 1347.3L423.7 1338.4L437 1337.2zM443.7 1325.5L449 1337.8L462.3 1339.1L452.2 1347.9L455.2 1361L443.7 1354.2L432.1 1361L435.1 1347.9L425 1339.1L438.4 1337.8zM445 1326.2L450.3 1338.5L463.6 1339.8L453.6 1348.6L456.5 1361.7L445 1354.9L433.5 1361.7L436.4 1348.6L426.3 1339.8L439.7 1338.5zM446.3 1327L451.6 1339.3L464.9 1340.5L454.9 1349.4L457.8 1362.4L446.3 1355.6L434.8 1362.4L437.7 1349.4L427.7 1340.5L441 1339.3zM447.6 1327.8L452.9 1340.1L466.2 1341.3L456.1 1350.1L459.1 1363.2L447.6 1356.4L436.1 1363.2L439 1350.1L428.9 1341.3L442.3 1340.1zM448.8 1328.6L454.1 1340.9L467.5 1342.1L457.4 1351L460.4 1364L448.8 1357.2L437.3 1364L440.3 1351L430.2 1342.1L443.5 1340.9zM450.1 1329.4L455.4 1341.7L468.7 1343L458.6 1351.8L461.6 1364.9L450.1 1358.1L438.5 1364.9L441.5 1351.8L431.4 1343L444.8 1341.7zM451.3 1330.3L456.6 1342.6L469.9 1343.9L459.8 1352.7L462.8 1365.8L451.3 1358.9L439.7 1365.8L442.7 1352.7L432.6 1343.9L446 1342.6zM452.4 1331.3L457.7 1343.6L471.1 1344.8L461 1353.7L464 1366.7L452.4 1359.9L440.9 1366.7L443.9 1353.7L433.8 1344.8L447.1 1343.6zM453.6 1332.2L458.9 1344.5L472.2 1345.8L462.2 1354.6L465.1 1367.7L453.6 1360.9L442.1 1367.7L445 1354.6L434.9 1345.8L448.3 1344.5zM454.7 1333.2L460 1345.6L473.3 1346.8L463.3 1355.6L466.2 1368.7L454.7 1361.9L443.2 1368.7L446.1 1355.6L436.1 1346.8L449.4 1345.6zM455.8 1334.3L461.1 1346.6L474.4 1347.8L464.3 1356.7L467.3 1369.8L455.8 1362.9L444.2 1369.8L447.2 1356.7L437.1 1347.8L450.5 1346.6zM456.8 1335.4L462.1 1347.7L475.4 1348.9L465.4 1357.8L468.3 1370.8L456.8 1364L445.3 1370.8L448.2 1357.8L438.2 1348.9L451.5 1347.7zM457.8 1336.5L463.1 1348.8L476.4 1350L466.4 1358.9L469.3 1371.9L457.8 1365.1L446.3 1371.9L449.2 1358.9L439.2 1350L452.5 1348.8zM458.8 1337.6L464.1 1349.9L477.4 1351.2L467.3 1360L470.3 1373.1L458.8 1366.3L447.3 1373.1L450.2 1360L440.1 1351.2L453.5 1349.9zM459.7 1338.8L465 1351.1L478.3 1352.4L468.3 1361.2L471.2 1374.3L459.7 1367.4L448.2 1374.3L451.1 1361.2L441.1 1352.4L454.4 1351.1zM460.6 1340L465.9 1352.3L479.2 1353.6L469.2 1362.4L472.1 1375.5L460.6 1368.7L449.1 1375.5L452 1362.4L441.9 1353.6L455.3 1352.3zM461.4 1341.3L466.7 1353.6L480.1 1354.8L470 1363.7L472.9 1376.7L461.4 1369.9L449.9 1376.7L452.8 1363.7L442.8 1354.8L456.1 1353.6zM462.2 1342.5L467.5 1354.8L480.9 1356.1L470.8 1364.9L473.7 1378L462.2 1371.2L450.7 1378L453.6 1364.9L443.6 1356.1L456.9 1354.8zM463 1343.8L468.3 1356.1L481.6 1357.4L471.6 1366.2L474.5 1379.3L463 1372.5L451.5 1379.3L454.4 1366.2L444.3 1357.4L457.7 1356.1zM463.7 1345.2L469 1357.5L482.3 1358.7L472.3 1367.5L475.2 1380.6L463.7 1373.8L452.2 1380.6L455.1 1367.5L445.1 1358.7L458.4 1357.5zM464.4 1346.5L469.7 1358.8L483 1360L473 1368.9L475.9 1381.9L464.4 1375.1L452.9 1381.9L455.8 1368.9L445.7 1360L459.1 1358.8zM465 1347.9L470.3 1360.2L483.6 1361.4L473.6 1370.2L476.5 1383.3L465 1376.5L453.5 1383.3L456.4 1370.2L446.4 1361.4L459.7 1360.2zM465.6 1349.2L470.9 1361.5L484.2 1362.8L474.2 1371.6L477.1 1384.7L465.6 1377.8L454.1 1384.7L457 1371.6L447 1362.8L460.3 1361.5zM466.1 1350.6L471.4 1362.9L484.8 1364.2L474.7 1373L477.7 1386.1L466.1 1379.2L454.6 1386.1L457.6 1373L447.5 1364.2L460.8 1362.9zM466.7 1352L472 1364.3L485.3 1365.6L475.2 1374.4L478.2 1387.5L466.7 1380.7L455.1 1387.5L458.1 1374.4L448 1365.6L461.4 1364.3zM467.1 1353.5L472.4 1365.8L485.8 1367L475.7 1375.8L478.6 1388.9L467.1 1382.1L455.6 1388.9L458.6 1375.8L448.5 1367L461.8 1365.8zM467.6 1354.9L472.9 1367.2L486.2 1368.4L476.1 1377.3L479.1 1390.4L467.6 1383.5L456 1390.4L459 1377.3L448.9 1368.4L462.3 1367.2zM467.9 1356.3L473.2 1368.7L486.6 1369.9L476.5 1378.7L479.5 1391.8L467.9 1385L456.4 1391.8L459.4 1378.7L449.3 1369.9L462.6 1368.7zM468.3 1357.8L473.6 1370.1L486.9 1371.3L476.9 1380.2L479.8 1393.3L468.3 1386.4L456.8 1393.3L459.7 1380.2L449.7 1371.3L463 1370.1zM468.6 1359.3L473.9 1371.6L487.3 1372.8L477.2 1381.7L480.1 1394.7L468.6 1387.9L457.1 1394.7L460 1381.7L450 1372.8L463.3 1371.6zM468.9 1360.7L474.2 1373.1L487.5 1374.3L477.5 1383.1L480.4 1396.2L468.9 1389.4L457.4 1396.2L460.3 1383.1L450.2 1374.3L463.6 1373.1z" fill="#fa9696"/>
<path d="M337 1381 L337.5 1379.9 L338.1 1378.8 L338.6 1377.8 L339.2 1376.7 L339.9 1375.7 L340.5 1374.7 L341.2 1373.7 L341.9 1372.7 L342.6 1371.7 L343.3 1370.7 L344.1 1369.7 L344.8 1368.8 L345.6 1367.8 L346.4 1366.9 L347.3 1366 L348.1 1365.1 L349 1364.2 L349.9 1363.3 L350.8 1362.5 L351.8 1361.6 L352.7 1360.8 L353.7 1359.9 L354.7 1359.1 L355.7 1358.3 L356.7 1357.5 L357.7 1356.8 L358.8 1356 L359.8 1355.3 L360.9 1354.5 L362 1353.8 L363.1 1353.1 L364.2 1352.5 L365.3 1351.8 L366.5 1351.1 L367.6 1350.5 L368.8 1349.9 L369.9 1349.3 L371.1 1348.7 L372.3 1348.1 L373.5 1347.5 L374.7 1347 L376 1346.4 L377.2 1345.9 L378.4 1345.4 L379.7 1344.9 L380.9 1344.5 L382.2 1344 L383.4 1343.6 L384.7 1343.2 L386 1342.8 L387.3 1342.4 L388.6 1342 L389.8 1341.7 L391.1 1341.4 L392.4 1341 L393.7 1340.8 L395 1340.5 L396.3 1340.2 L397.6 1340 L398.9 1339.8 L400.2 1339.6 L401.6 1339.4 L402.9 1339.2 L404.2 1339 L405.5 1338.9 L406.8 1338.8 L408.1 1338.7 L409.4 1338.6 L410.7 1338.6 L412 1338.6 L413.3 1338.5 L414.5 1338.5 L415.8 1338.6 L417.1 1338.6 L418.4 1338.7 L419.6 1338.8 L420.9 1338.9 L422.2 1339 L423.4 1339.1 L424.6 1339.3 L425.9 1339.5 L427.1 1339.7 L428.3 1339.9 L429.5 1340.2 L430.7 1340.5 L431.9 1340.7 L433.1 1341.1 L434.2 1341.4 L435.4 1341.8 L436.5 1342.1 L437.7 1342.5 L438.8 1343 L439.9 1343.4 L441 1343.9 L442.1 1344.4 L443.2 1344.9 L444.2 1345.4 L445.2 1346 L446.3 1346.6 L447.3 1347.2 L448.3 1347.8 L449.2 1348.5 L450.2 1349.1 L451.1 1349.8 L452.1 1350.6 L453 1351.3 L453.9 1352.1 L454.7 1352.9 L455.6 1353.7 L456.4 1354.5 L457.2 1355.4 L458 1356.3 L458.8 1357.2 L459.5 1358.2 L460.2 1359.1 L460.9 1360.1 L461.6 1361.1 L462.3 1362.2 L462.9 1363.3 L463.5 1364.4 L464.1 1365.5 L464.6 1366.6 L465.2 1367.8 L465.7 1369 L466.2 1370.2 L466.6 1371.5 L467 1372.8 L467.4 1374.1 L467.8 1375.4 L468.1 1376.8 L468.5 1378.1 L468.7 1379.6 L469 1381" fill="none" stroke="#ff0000" stroke-width="10" stroke-linecap="round" stroke-linejoin="round"/>
<path d="M321 1366h30v30h-30zM321.8 1364.7h30v30h-30zM322.6 1363.5h30v30h-30zM323.5 1362.3h30v30h-30zM324.5 1361.1h30v30h-30zM325.4 1360h30v30h-30zM326.4 1358.8h30v30h-30zM327.5 1357.8h30v30h-30zM328.5 1356.7h30v30h-30zM329.7 1355.7h30v30h-30zM330.8 1354.7h30v30h-30zM331.9 1353.8h30v30h-30zM333.1 1352.8h30v30h-30zM334.3 1352h30v30h-30zM335.6 1351.1h30v30h-30zM336.8 1350.3h30v30h-30zM338.1 1349.5h30v30h-30zM339.4 1348.7h30v30h-30zM340.7 1348h30v30h-30zM342 1347.3h30v30h-30zM343.4 1346.6h30v30h-30zM344.7 1346h30v30h-30zM346.1 1345.4h30v30h-30zM347.5 1344.9h30v30h-30zM348.9 1344.3h30v30h-30zM350.3 1343.8h30v30h-30zM351.7 1343.3h30v30h-30zM353.2 1342.9h30v30h-30zM354.6 1342.5h30v30h-30zM356.1 1342.1h30v30h-30zM357.5 1341.8h30v30h-30zM359 1341.4h30v30h-30zM360.5 1341.2h30v30h-30zM361.9 1340.9h30v30h-30zM363.4 1340.7h30v30h-30zM364.9 1340.5h30v30h-30zM366.4 1340.4h30v30h-30zM367.9 1340.2h30v30h-30zM369.4 1340.2h30v30h-30zM370.9 1340.1h30v30h-30zM372.4 1340.1h30v30h-30zM373.9 1340.1h30v30h-30zM375.4 1340.2h30v30h-30zM376.9 1340.3h30v30h-30zM378.4 1340.4h30v30h-30zM379.9 1340.6h30v30h-30zM381.4 1340.8h30v30h-30zM382.9 1341.1h30v30h-30zM384.3 1341.4h30v30h-30zM385.8 1341.7h30v30h-30zM387.2 1342.1h30v30h-30zM388.7 1342.5h30v30h-30zM390.1 1342.9h30v30h-30zM391.5 1343.4h30v30h-30zM392.9 1344h30v30h-30zM394.3 1344.6h30v30h-30zM395.6 1345.2h30v30h-30zM397 1345.9h30v30h-30zM398.3 1346.6h30v30h-30zM399.6 1347.4h30v30h-30zM400.8 1348.2h30v30h-30zM402 1349.1h30v30h-30zM403.2 1350h30v30h-30zM404.4 1351h30v30h-30zM405.5 1352h30v30h-30zM406.6 1353h30v30h-30zM407.6 1354.1h30v30h-30zM408.6 1355.3h30v30h-30zM409.5 1356.4h30v30h-30zM410.4 1357.6h30v30h-30zM411.3 1358.9h30v30h-30zM412.1 1360.1h30v30h-30zM412.8 1361.4h30v30h-30zM413.5 1362.8h30v30h-30zM414.2 1364.1h30v30h-30zM414.8 1365.5h30v30h-30z" fill="#b078dc"/>
<path d="M336 1381 L336.4 1380.3 L336.9 1379.6 L337.3 1378.9 L337.8 1378.3 L338.3 1377.6 L338.8 1376.9 L339.3 1376.3 L339.8 1375.7 L340.4 1375 L340.9 1374.4 L341.5 1373.8 L342.1 1373.2 L342.6 1372.6 L343.2 1372 L343.8 1371.4 L344.5 1370.9 L345.1 1370.3 L345.7 1369.8 L346.4 1369.2 L347 1368.7 L347.7 1368.2 L348.4 1367.7 L349 1367.2 L349.7 1366.7 L350.4 1366.2 L351.1 1365.7 L351.9 1365.3 L352.6 1364.8 L353.3 1364.4 L354.1 1363.9 L354.8 1363.5 L355.6 1363.1 L356.3 1362.7 L357.1 1362.3 L357.9 1361.9 L358.7 1361.5 L359.4 1361.2 L360.2 1360.8 L361 1360.5 L361.8 1360.1 L362.7 1359.8 L363.5 1359.5 L364.3 1359.2 L365.1 1358.9 L365.9 1358.6 L366.8 1358.3 L367.6 1358.1 L368.4 1357.8 L369.3 1357.6 L370.1 1357.3 L371 1357.1 L371.8 1356.9 L372.7 1356.7 L373.5 1356.5 L374.4 1356.4 L375.3 1356.2 L376.1 1356.1 L377 1355.9 L377.9 1355.8 L378.7 1355.7 L379.6 1355.6 L380.5 1355.5 L381.3 1355.4 L382.2 1355.3 L383.1 1355.2 L383.9 1355.2 L384.8 1355.2 L385.7 1355.1 L386.5 1355.1 L387.4 1355.1 L388.3 1355.1 L389.1 1355.1 L390 1355.2 L390.8 1355.2 L391.7 1355.3 L392.6 1355.3 L393.4 1355.4 L394.3 1355.5 L395.1 1355.6 L395.9 1355.7 L396.8 1355.9 L397.6 1356 L398.4 1356.2 L399.3 1356.3 L400.1 1356.5 L400.9 1356.7 L401.7 1356.9 L402.5 1357.1 L403.3 1357.4 L404.1 1357.6 L404.9 1357.9 L405.7 1358.1 L406.5 1358.4 L407.2 1358.7 L408 1359 L408.8 1359.4 L409.5 1359.7 L410.3 1360 L411 1360.4 L411.7 1360.8 L412.4 1361.2 L413.2 1361.6 L413.9 1362 L414.5 1362.4 L415.2 1362.9 L415.9 1363.3 L416.6 1363.8 L417.2 1364.3 L417.9 1364.8 L418.5 1365.3 L419.2 1365.8 L419.8 1366.3 L420.4 1366.9 L421 1367.5 L421.6 1368 L422.1 1368.6 L422.7 1369.3 L423.3 1369.9 L423.8 1370.5 L424.3 1371.2 L424.8 1371.8 L425.3 1372.5 L425.8 1373.2 L426.3 1373.9 L426.8 1374.7 L427.2 1375.4 L427.7 1376.2 L428.1 1376.9 L428.5 1377.7 L428.9 1378.5 L429.3 1379.3 L429.6 1380.2 L430 1381" fill="none" stroke="#ff0000" stroke-width="10" stroke-linecap="round" stroke-linejoin="round"/>
<path d="M346 1358.5L365.5 1392.3L326.5 1392.3zM346.8 1357.2L366.3 1391L327.3 1391zM347.6 1356L367.1 1389.7L328.1 1389.7zM348.5 1354.8L368 1388.5L329 1388.5zM349.4 1353.6L368.9 1387.3L329.9 1387.3zM350.4 1352.4L369.9 1386.2L330.9 1386.2zM351.4 1351.3L370.9 1385L331.9 1385zM352.4 1350.2L371.9 1383.9L332.9 1383.9zM353.4 1349.1L372.9 1382.9L333.9 1382.9zM354.5 1348L374 1381.8L335 1381.8zM355.6 1347L375.1 1380.8L336.1 1380.8zM356.7 1346L376.2 1379.8L337.2 1379.8zM357.9 1345.1L377.4 1378.9L338.4 1378.9zM359.1 1344.2L378.6 1377.9L339.6 1377.9zM360.3 1343.3L379.8 1377L340.8 1377zM361.5 1342.4L381 1376.2L342 1376.2zM362.7 1341.6L382.2 1375.3L343.2 1375.3zM364 1340.7L383.5 1374.5L344.5 1374.5zM365.3 1340L384.8 1373.7L345.8 1373.7zM366.6 1339.2L386.1 1373L347.1 1373zM367.9 1338.5L387.4 1372.3L348.4 1372.3zM369.2 1337.8L388.7 1371.6L349.7 1371.6zM370.6 1337.1L390.1 1370.9L351.1 1370.9zM371.9 1336.5L391.4 1370.3L352.4 1370.3zM373.3 1335.9L392.8 1369.7L353.8 1369.7zM374.7 1335.3L394.2 1369.1L355.2 1369.1zM376.1 1334.8L395.6 1368.6L356.6 1368.6zM377.5 1334.3L397 1368.1L358 1368.1zM378.9 1333.8L398.4 1367.6L359.4 1367.6zM380.4 1333.4L399.9 1367.1L360.9 1367.1zM381.8 1332.9L401.3 1366.7L362.3 1366.7zM383.2 1332.5L402.7 1366.3L363.7 1366.3zM384.7 1332.2L404.2 1366L365.2 1366zM386.2 1331.9L405.7 1365.6L366.7 1365.6zM387.6 1331.6L407.1 1365.3L368.1 1365.3zM389.1 1331.3L408.6 1365.1L369.6 1365.1zM390.6 1331L410.1 1364.8L371.1 1364.8zM392.1 1330.8L411.6 1364.6L372.6 1364.6zM393.6 1330.7L413.1 1364.4L374.1 1364.4zM395.1 1330.5L414.6 1364.3L375.6 1364.3zM396.6 1330.4L416.1 1364.2L377.1 1364.2zM398.1 1330.3L417.6 1364.1L378.6 1364.1zM399.6 1330.3L419.1 1364.1L380.1 1364.1zM401.1 1330.3L420.6 1364L381.6 1364zM402.6 1330.3L422.1 1364.1L383.1 1364.1zM404.1 1330.3L423.6 1364.1L384.6 1364.1zM405.5 1330.4L425 1364.2L386 1364.2zM407 1330.6L426.5 1364.3L387.5 1364.3zM408.5 1330.7L428 1364.5L389 1364.5zM410 1330.9L429.5 1364.7L390.5 1364.7zM411.5 1331.1L431 1364.9L392 1364.9zM413 1331.4L432.5 1365.2L393.5 1365.2zM414.4 1331.7L433.9 1365.5L394.9 1365.5zM415.9 1332.1L435.4 1365.8L396.4 1365.8zM417.4 1332.5L436.9 1366.2L397.9 1366.2zM418.8 1332.9L438.3 1366.6L399.3 1366.6zM420.2 1333.3L439.7 1367.1L400.7 1367.1zM421.6 1333.8L441.1 1367.6L402.1 1367.6zM423 1334.4L442.5 1368.2L403.5 1368.2zM424.4 1335L443.9 1368.8L404.9 1368.8zM425.8 1335.6L445.3 1369.4L406.3 1369.4zM427.1 1336.3L446.6 1370.1L407.6 1370.1zM428.4 1337L447.9 1370.8L408.9 1370.8zM429.7 1337.7L449.2 1371.5L410.2 1371.5zM431 1338.5L450.5 1372.3L411.5 1372.3zM432.2 1339.4L451.7 1373.2L412.7 1373.2zM433.5 1340.3L453 1374L414 1374zM434.6 1341.2L454.1 1375L415.1 1375zM435.8 1342.1L455.3 1375.9L416.3 1375.9zM436.9 1343.1L456.4 1376.9L417.4 1376.9zM438 1344.2L457.5 1378L418.5 1378zM439 1345.3L458.5 1379L419.5 1379zM440 1346.4L459.5 1380.2L420.5 1380.2zM441 1347.5L460.5 1381.3L421.5 1381.3zM441.9 1348.7L461.4 1382.5L422.4 1382.5zM442.8 1349.9L462.3 1383.7L423.3 1383.7zM443.7 1351.2L463.2 1384.9L424.2 1384.9zM444.4 1352.4L463.9 1386.2L424.9 1386.2zM445.2 1353.7L464.7 1387.5L425.7 1387.5zM445.9 1355.1L465.4 1388.8L426.4 1388.8zM446.6 1356.4L466.1 1390.2L427.1 1390.2zM447.2 1357.8L466.7 1391.5L427.7 1391.5z" fill="#00c8c8"/>
<path d="M346 1381 L346.5 1380.2 L347 1379.5 L347.5 1378.7 L348 1378 L348.5 1377.3 L349.1 1376.5 L349.6 1375.8 L350.2 1375.1 L350.8 1374.4 L351.4 1373.8 L352 1373.1 L352.6 1372.4 L353.3 1371.8 L353.9 1371.1 L354.6 1370.5 L355.2 1369.9 L355.9 1369.3 L356.6 1368.7 L357.3 1368.1 L358 1367.5 L358.7 1366.9 L359.5 1366.4 L360.2 1365.8 L361 1365.3 L361.7 1364.7 L362.5 1364.2 L363.3 1363.7 L364.1 1363.2 L364.8 1362.7 L365.6 1362.3 L366.4 1361.8 L367.3 1361.4 L368.1 1360.9 L368.9 1360.5 L369.8 1360.1 L370.6 1359.7 L371.4 1359.3 L372.3 1358.9 L373.2 1358.5 L374 1358.1 L374.9 1357.8 L375.8 1357.4 L376.7 1357.1 L377.5 1356.8 L378.4 1356.5 L379.3 1356.2 L380.2 1355.9 L381.1 1355.7 L382 1355.4 L382.9 1355.1 L383.9 1354.9 L384.8 1354.7 L385.7 1354.5 L386.6 1354.3 L387.5 1354.1 L388.5 1353.9 L389.4 1353.8 L390.3 1353.6 L391.2 1353.5 L392.2 1353.3 L393.1 1353.2 L394 1353.1 L395 1353 L395.9 1353 L396.8 1352.9 L397.8 1352.9 L398.7 1352.8 L399.6 1352.8 L400.5 1352.8 L401.5 1352.8 L402.4 1352.8 L403.3 1352.8 L404.2 1352.9 L405.2 1352.9 L406.1 1353 L407 1353.1 L407.9 1353.2 L408.8 1353.3 L409.7 1353.4 L410.6 1353.5 L411.5 1353.7 L412.4 1353.8 L413.3 1354 L414.2 1354.2 L415.1 1354.4 L416 1354.6 L416.8 1354.8 L417.7 1355.1 L418.6 1355.3 L419.4 1355.6 L420.3 1355.9 L421.1 1356.2 L421.9 1356.5 L422.8 1356.8 L423.6 1357.1 L424.4 1357.5 L425.2 1357.9 L426 1358.2 L426.8 1358.6 L427.6 1359.1 L428.4 1359.5 L429.2 1359.9 L429.9 1360.4 L430.7 1360.8 L431.4 1361.3 L432.1 1361.8 L432.9 1362.3 L433.6 1362.9 L434.3 1363.4 L435 1364 L435.6 1364.5 L436.3 1365.1 L437 1365.7 L437.6 1366.3 L438.3 1367 L438.9 1367.6 L439.5 1368.3 L440.1 1369 L440.7 1369.7 L441.3 1370.4 L441.8 1371.1 L442.4 1371.8 L442.9 1372.6 L443.4 1373.4 L443.9 1374.1 L444.4 1374.9 L444.9 1375.8 L445.4 1376.6 L445.8 1377.4 L446.3 1378.3 L446.7 1379.2 L447.1 1380.1 L447.5 1381" fill="none" stroke="#ff0000" stroke-width="10" stroke-linecap="round" stroke-linejoin="round"/>
<path d="M358 1360.5L378.5 1381L358 1401.5L337.5 1381zM358.6 1359.5L379.1 1380L358.6 1400.5L338.1 1380zM359.2 1358.4L379.7 1378.9L359.2 1399.4L338.7 1378.9zM359.9 1357.4L380.4 1377.9L359.9 1398.4L339.4 1377.9zM360.6 1356.5L381.1 1377L360.6 1397.5L340.1 1377zM361.3 1355.5L381.8 1376L361.3 1396.5L340.8 1376zM362.1 1354.6L382.6 1375.1L362.1 1395.6L341.6 1375.1zM363 1353.8L383.5 1374.3L363 1394.8L342.5 1374.3zM363.8 1352.9L384.3 1373.4L363.8 1393.9L343.3 1373.4zM364.7 1352.1L385.2 1372.6L364.7 1393.1L344.2 1372.6zM365.6 1351.4L386.1 1371.9L365.6 1392.4L345.1 1371.9zM366.6 1350.6L387.1 1371.1L366.6 1391.6L346.1 1371.1zM367.6 1349.9L388.1 1370.4L367.6 1390.9L347.1 1370.4zM368.6 1349.3L389.1 1369.8L368.6 1390.3L348.1 1369.8zM369.6 1348.7L390.1 1369.2L369.6 1389.7L349.1 1369.2zM370.6 1348.1L391.1 1368.6L370.6 1389.1L350.1 1368.6zM371.7 1347.5L392.2 1368L371.7 1388.5L351.2 1368zM372.8 1347L393.3 1367.5L372.8 1388L352.3 1367.5zM373.9 1346.5L394.4 1367L373.9 1387.5L353.4 1367zM375 1346.1L395.5 1366.6L375 1387.1L354.5 1366.6zM376.2 1345.7L396.7 1366.2L376.2 1386.7L355.7 1366.2zM377.3 1345.4L397.8 1365.9L377.3 1386.4L356.8 1365.9zM378.5 1345.1L399 1365.6L378.5 1386.1L358 1365.6zM379.6 1344.8L400.1 1365.3L379.6 1385.8L359.1 1365.3zM380.8 1344.6L401.3 1365.1L380.8 1385.6L360.3 1365.1zM382 1344.4L402.5 1364.9L382 1385.4L361.5 1364.9zM383.2 1344.2L403.7 1364.7L383.2 1385.2L362.7 1364.7zM384.4 1344.1L404.9 1364.6L384.4 1385.1L363.9 1364.6zM385.6 1344.1L406.1 1364.6L385.6 1385.1L365.1 1364.6zM386.8 1344L407.3 1364.5L386.8 1385L366.3 1364.5zM388 1344.1L408.5 1364.6L388 1385.1L367.5 1364.6zM389.2 1344.2L409.7 1364.7L389.2 1385.2L368.7 1364.7zM390.4 1344.3L410.9 1364.8L390.4 1385.3L369.9 1364.8zM391.6 1344.5L412.1 1365L391.6 1385.5L371.1 1365zM392.7 1344.7L413.2 1365.2L392.7 1385.7L372.2 1365.2zM393.9 1345L414.4 1365.5L393.9 1386L373.4 1365.5zM395 1345.3L415.5 1365.8L395 1386.3L374.5 1365.8zM396.2 1345.7L416.7 1366.2L396.2 1386.7L375.7 1366.2zM397.3 1346.2L417.8 1366.7L397.3 1387.2L376.8 1366.7zM398.4 1346.7L418.9 1367.2L398.4 1387.7L377.9 1367.2zM399.4 1347.3L419.9 1367.8L399.4 1388.3L378.9 1367.8zM400.5 1347.9L421 1368.4L400.5 1388.9L380 1368.4zM401.5 1348.5L422 1369L401.5 1389.5L381 1369zM402.4 1349.3L422.9 1369.8L402.4 1390.3L381.9 1369.8zM403.3 1350L423.8 1370.5L403.3 1391L382.8 1370.5zM404.2 1350.9L424.7 1371.4L404.2 1391.9L383.7 1371.4zM405 1351.7L425.5 1372.2L405 1392.7L384.5 1372.2zM405.8 1352.6L426.3 1373.1L405.8 1393.6L385.3 1373.1zM406.5 1353.6L427 1374.1L406.5 1394.6L386 1374.1zM407.2 1354.6L427.7 1375.1L407.2 1395.6L386.7 1375.1zM407.8 1355.6L428.3 1376.1L407.8 1396.6L387.3 1376.1zM408.4 1356.7L428.9 1377.2L408.4 1397.7L387.9 1377.2zM408.9 1357.7L429.4 1378.2L408.9 1398.7L388.4 1378.2zM409.4 1358.9L429.9 1379.4L409.4 1399.9L388.9 1379.4zM409.8 1360L430.3 1380.5L409.8 1401L389.3 1380.5z" fill="#8c8c00"/>
<path d="M358 1381 L358.2 1380.6 L358.5 1380.1 L358.7 1379.7 L359 1379.3 L359.3 1378.8 L359.5 1378.4 L359.8 1378 L360.1 1377.6 L360.4 1377.2 L360.7 1376.8 L361 1376.4 L361.3 1376 L361.7 1375.7 L362 1375.3 L362.3 1374.9 L362.7 1374.6 L363 1374.2 L363.4 1373.8 L363.7 1373.5 L364.1 1373.2 L364.5 1372.8 L364.8 1372.5 L365.2 1372.2 L365.6 1371.9 L366 1371.6 L366.4 1371.3 L366.8 1371 L367.2 1370.7 L367.6 1370.4 L368 1370.1 L368.4 1369.9 L368.9 1369.6 L369.3 1369.3 L369.7 1369.1 L370.2 1368.8 L370.6 1368.6 L371 1368.4 L371.5 1368.1 L371.9 1367.9 L372.4 1367.7 L372.8 1367.5 L373.3 1367.3 L373.7 1367.1 L374.2 1366.9 L374.7 1366.8 L375.1 1366.6 L375.6 1366.4 L376.1 1366.3 L376.5 1366.1 L377 1366 L377.5 1365.8 L378 1365.7 L378.4 1365.6 L378.9 1365.4 L379.4 1365.3 L379.9 1365.2 L380.4 1365.1 L380.8 1365 L381.3 1365 L381.8 1364.9 L382.3 1364.8 L382.8 1364.8 L383.3 1364.7 L383.8 1364.7 L384.2 1364.6 L384.7 1364.6 L385.2 1364.6 L385.7 1364.6 L386.2 1364.5 L386.7 1364.5 L387.1 1364.6 L387.6 1364.6 L388.1 1364.6 L388.6 1364.6 L389 1364.7 L389.5 1364.7 L390 1364.8 L390.5 1364.8 L390.9 1364.9 L391.4 1365 L391.9 1365 L392.3 1365.1 L392.8 1365.2 L393.3 1365.3 L393.7 1365.5 L394.2 1365.6 L394.6 1365.7 L395.1 1365.8 L395.5 1366 L395.9 1366.1 L396.4 1366.3 L396.8 1366.5 L397.2 1366.7 L397.7 1366.9 L398.1 1367.1 L398.5 1367.3 L398.9 1367.5 L399.3 1367.7 L399.7 1367.9 L400.1 1368.2 L400.5 1368.4 L400.9 1368.7 L401.3 1368.9 L401.7 1369.2 L402.1 1369.5 L402.4 1369.8 L402.8 1370.1 L403.2 1370.4 L403.5 1370.7 L403.9 1371 L404.2 1371.4 L404.6 1371.7 L404.9 1372.1 L405.2 1372.4 L405.5 1372.8 L405.8 1373.2 L406.1 1373.5 L406.4 1373.9 L406.7 1374.4 L407 1374.8 L407.3 1375.2 L407.6 1375.6 L407.8 1376.1 L408.1 1376.5 L408.3 1377 L408.6 1377.4 L408.8 1377.9 L409 1378.4 L409.2 1378.9 L409.4 1379.4 L409.6 1379.9 L409.8 1380.5 L410 1381" fill="none" stroke="#ff0000" stroke-width="10" stroke-linecap="round" stroke-linejoin="round"/>
<path d="M379.5 1381L345.7 1400.5L345.7 1361.5zM380 1379.6L346.2 1399.1L346.2 1360.1zM380.5 1378.2L346.7 1397.7L346.7 1358.7zM381.1 1376.8L347.4 1396.3L347.4 1357.3zM381.8 1375.5L348.1 1395L348.1 1356zM382.6 1374.2L348.9 1393.7L348.9 1354.7zM383.5 1373L349.7 1392.5L349.7 1353.5zM384.5 1371.9L350.7 1391.4L350.7 1352.4zM385.5 1370.8L351.8 1390.3L351.8 1351.3zM386.6 1369.8L352.9 1389.3L352.9 1350.3zM387.8 1368.8L354 1388.3L354 1349.3zM389.1 1368L355.3 1387.5L355.3 1348.5zM390.3 1367.2L356.6 1386.7L356.6 1347.7zM391.7 1366.5L357.9 1386L357.9 1347zM393.1 1365.9L359.3 1385.4L359.3 1346.4zM394.5 1365.4L360.7 1384.9L360.7 1345.9zM395.9 1365L362.1 1384.5L362.1 1345.5zM397.3 1364.6L363.6 1384.1L363.6 1345.1zM398.8 1364.3L365 1383.8L365 1344.8zM400.3 1364.1L366.5 1383.6L366.5 1344.6zM401.8 1364L368 1383.5L368 1344.5zM403.3 1363.9L369.5 1383.4L369.5 1344.4zM404.8 1363.9L371 1383.4L371 1344.4zM406.3 1363.9L372.5 1383.4L372.5 1344.4zM407.8 1364.1L374 1383.6L374 1344.6zM409.3 1364.3L375.5 1383.8L375.5 1344.8zM410.8 1364.5L377 1384L377 1345zM412.2 1364.8L378.4 1384.3L378.4 1345.3zM413.7 1365.2L379.9 1384.7L379.9 1345.7zM415.1 1365.7L381.3 1385.2L381.3 1346.2zM416.5 1366.2L382.7 1385.7L382.7 1346.7zM417.9 1366.8L384.1 1386.3L384.1 1347.3zM419.2 1367.4L385.5 1386.9L385.5 1347.9zM420.6 1368.1L386.8 1387.6L386.8 1348.6zM421.9 1368.9L388.1 1388.4L388.1 1349.4zM423.1 1369.7L389.3 1389.2L389.3 1350.2zM424.3 1370.6L390.5 1390.1L390.5 1351.1zM425.5 1371.6L391.7 1391.1L391.7 1352.1zM426.6 1372.6L392.8 1392.1L392.8 1353.1zM427.6 1373.7L393.8 1393.2L393.8 1354.2zM428.6 1374.8L394.8 1394.3L394.8 1355.3zM429.5 1376L395.7 1395.5L395.7 1356.5zM430.3 1377.2L396.6 1396.7L396.6 1357.7zM431.1 1378.5L397.3 1398L397.3 1359zM431.8 1379.9L398 1399.4L398 1360.4zM432.3 1381.2L398.6 1400.7L398.6 1361.7z" fill="#6699cc"/>
<path d="M362.3 1372 L362.6 1371.7 L362.9 1371.3 L363.2 1371 L363.5 1370.7 L363.8 1370.4 L364.2 1370.1 L364.5 1369.8 L364.8 1369.5 L365.1 1369.2 L365.5 1368.9 L365.8 1368.7 L366.2 1368.4 L366.5 1368.2 L366.9 1367.9 L367.2 1367.7 L367.6 1367.4 L368 1367.2 L368.3 1367 L368.7 1366.8 L369.1 1366.6 L369.5 1366.4 L369.8 1366.2 L370.2 1366 L370.6 1365.8 L371 1365.7 L371.4 1365.5 L371.8 1365.4 L372.2 1365.2 L372.6 1365.1 L373 1364.9 L373.4 1364.8 L373.8 1364.7 L374.2 1364.6 L374.6 1364.5 L375 1364.4 L375.4 1364.3 L375.8 1364.2 L376.3 1364.1 L376.7 1364 L377.1 1364 L377.5 1363.9 L377.9 1363.9 L378.4 1363.8 L378.8 1363.8 L379.2 1363.7 L379.6 1363.7 L380.1 1363.7 L380.5 1363.7 L380.9 1363.7 L381.3 1363.6 L381.8 1363.6 L382.2 1363.7 L382.6 1363.7 L383.1 1363.7 L383.5 1363.7 L383.9 1363.7 L384.4 1363.8 L384.8 1363.8 L385.2 1363.9 L385.6 1363.9 L386.1 1364 L386.5 1364.1 L386.9 1364.1 L387.4 1364.2 L387.8 1364.3 L388.2 1364.4 L388.6 1364.5 L389 1364.6 L389.5 1364.7 L389.9 1364.8 L390.3 1364.9 L390.7 1365 L391.1 1365.2 L391.6 1365.3 L392 1365.4 L392.4 1365.6 L392.8 1365.7 L393.2 1365.9 L393.6 1366 L394 1366.2 L394.4 1366.4 L394.8 1366.6 L395.2 1366.7 L395.6 1366.9 L396 1367.1 L396.4 1367.3 L396.8 1367.5 L397.1 1367.7 L397.5 1367.9 L397.9 1368.1 L398.3 1368.4 L398.6 1368.6 L399 1368.8 L399.4 1369.1 L399.7 1369.3 L400.1 1369.5 L400.5 1369.8 L400.8 1370 L401.1 1370.3 L401.5 1370.6 L401.8 1370.8 L402.2 1371.1 L402.5 1371.4 L402.8 1371.7 L403.1 1372 L403.5 1372.3 L403.8 1372.5 L404.1 1372.8 L404.4 1373.2 L404.7 1373.5 L405 1373.8 L405.3 1374.1 L405.5 1374.4 L405.8 1374.7 L406.1 1375.1 L406.4 1375.4 L406.6 1375.7 L406.9 1376.1 L407.1 1376.4 L407.4 1376.8 L407.6 1377.1 L407.8 1377.5 L408.1 1377.9 L408.3 1378.2 L408.5 1378.6 L408.7 1379 L408.9 1379.4 L409.1 1379.7 L409.3 1380.1 L409.5 1380.5 L409.7 1380.9 L409.8 1381.3 L410 1381.7" fill="none" stroke="#ff0000" stroke-width="10" stroke-linecap="round" stroke-linejoin="round"/>
</g>
<text transform="translate(285.5 1406.1) scale(0.950 1)" font-family="'Liberation Serif', 'Times New Roman', serif" font-size="80" font-weight="normal" text-anchor="end">0</text>
<text transform="translate(329.7 1484.3) scale(0.950 1)" font-family="'Liberation Serif', 'Times New Roman', serif" font-size="80" font-weight="normal" text-anchor="middle">0</text>
<text transform="translate(285.5 1205.7) scale(0.950 1)" font-family="'Liberation Serif', 'Times New Roman', serif" font-size="80" font-weight="normal" text-anchor="end">600</text>
<text transform="translate(577.2 1484.3) scale(0.950 1)" font-family="'Liberation Serif', 'Times New Roman', serif" font-size="80" font-weight="normal" text-anchor="middle">600</text>
<text transform="translate(285.5 1005.3) scale(0.950 1)" font-family="'Liberation Serif', 'Times New Roman', serif" font-size="80" font-weight="normal" text-anchor="end">1200</text>
<text transform="translate(824.8 1484.3) scale(0.950 1)" font-family="'Liberation Serif', 'Times New Roman', serif" font-size="80" font-weight="normal" text-anchor="middle">1200</text>
<text transform="translate(285.5 804.9) scale(0.950 1)" font-family="'Liberation Serif', 'Times New Roman', serif" font-size="80" font-weight="normal" text-anchor="end">1800</text>
<text transform="translate(1072.3 1484.3) scale(0.950 1)" font-family="'Liberation Serif', 'Times New Roman', serif" font-size="80" font-weight="normal" text-anchor="middle">1800</text>
<text transform="translate(285.5 604.5) scale(0.950 1)" font-family="'Liberation Serif', 'Times New Roman', serif" font-size="80" font-weight="normal" text-anchor="end">2400</text>
<text transform="translate(1319.8 1484.3) scale(0.950 1)" font-family="'Liberation Serif', 'Times New Roman', serif" font-size="80" font-weight="normal" text-anchor="middle">2400</text>
<text transform="translate(285.5 404.1) scale(0.950 1)" font-family="'Liberation Serif', 'Times New Roman', serif" font-size="80" font-weight="normal" text-anchor="end">3000</text>
<text transform="translate(1567.4 1484.3) scale(0.950 1)" font-family="'Liberation Serif', 'Times New Roman', serif" font-size="80" font-weight="normal" text-anchor="middle">3000</text>
<text transform="translate(285.5 203.7) scale(0.950 1)" font-family="'Liberation Serif', 'Times New Roman', serif" font-size="80" font-weight="normal" text-anchor="end">3600</text>
<text transform="translate(1814.9 1484.3) scale(0.950 1)" font-family="'Liberation Serif', 'Times New Roman', serif" font-size="80" font-weight="normal" text-anchor="middle">3600</text>
<g transform="translate(1042.8 1623.7)" font-family="'Liberation Serif', 'Times New Roman', serif" font-weight="bold"><text transform="translate(-4.2 0) scale(1.05 1)" font-size="88.5">Z</text><text transform="translate(56.6 19.5) scale(1.1 1.385)" font-size="87">'</text><text transform="translate(107.1 0) scale(0.88 1)" font-size="79">(</text><text transform="translate(130.9 0)" font-size="92">Ω</text><text transform="translate(201.6 0) scale(0.88 1)" font-size="79">)</text></g>
<g transform="translate(94.2 836.5) rotate(-90)" font-family="'Liberation Serif', 'Times New Roman', serif" font-weight="bold"><text transform="translate(-4.2 0) scale(1.05 1)" font-size="88.5">Z</text><text transform="translate(56.6 19.5) scale(1.1 1.385)" font-size="87">'</text><text transform="translate(78.1 19.5) scale(1.1 1.385)" font-size="87">'</text><text transform="translate(129.1 0) scale(0.88 1)" font-size="79">(</text><text transform="translate(152.9 0)" font-size="92">Ω</text><text transform="translate(223.6 0) scale(0.88 1)" font-size="79">)</text></g>
<path d="M1650 953.3L443.2 1346.8" stroke="#000" stroke-width="10.5" fill="none"/>
<path d="M394 1362.6L438 1334L446 1360z" fill="#000" stroke="#000" stroke-width="8" stroke-linejoin="round"/>
<rect x="1649" y="881.6" width="216" height="115.8" fill="#00ff00"/>
<text transform="translate(1762.3 972) scale(1.053 1)" font-family="'Liberation Serif', 'Times New Roman', serif" font-size="85" font-weight="bold" text-anchor="middle">170K</text>
<text transform="translate(360.5 164.5) scale(1.020 1)" font-family="'Liberation Serif', 'Times New Roman', serif" font-size="100.5" font-weight="bold" text-anchor="start">(a)</text>
<rect x="545" y="96" width="320.7" height="103.5" fill="#000"/>
<rect x="526.5" y="77.5" width="319" height="101.3" fill="#fff" stroke="#000" stroke-width="3"/>
<text x="529.5" y="146.7" font-family="'Liberation Serif', 'Times New Roman', serif" font-weight="bold" font-size="76" textLength="311" lengthAdjust="spacingAndGlyphs">T<tspan font-size="52" dy="21.5">S</tspan><tspan dy="-21.5">=600°C</tspan></text>
<path d="M381 527L428 527M573 528.4L616.4 528.4M616.4 471L616.4 579.5M616.4 472L648.3 472M616.4 577.5L700 577.5M758 577.5L827.6 577.5M793 473L827.6 473M827.6 471.5L827.6 581M827.6 528L874.5 528M874.5 471.5L874.5 579M874.5 473L907 473M874.5 577.5L958 577.5M1017 576.5L1085 576.5M1051 473L1081.6 473M1081.6 471.5L1081.6 578M1081.6 528L1132 528" stroke="#000" stroke-width="3" fill="none"/>
<circle cx="381.1" cy="527" r="13.5" fill="#000"/>
<circle cx="1132" cy="529.4" r="13.5" fill="#000"/>
<defs>
<pattern id="hat1" patternUnits="userSpaceOnUse" width="25" height="25" x="438.5" y="555.7"><rect width="25" height="25" fill="#ffff80"/><path d="M-12.5 12.5L12.5 -12.5M-12.5 37.5L37.5 -12.5M12.5 37.5L37.5 12.5" stroke="#ff0000" stroke-width="7.6"/></pattern>
<pattern id="crs1" patternUnits="userSpaceOnUse" width="37.2" height="37.2" x="653.8" y="453.1"><rect width="37.2" height="37.2" fill="#aaffe0"/><path d="M-18.6 -18.6L55.8 55.8M55.8 -18.6L-18.6 55.8M-18.6 18.6L18.6 55.8M18.6 -18.6L55.8 18.6M-18.6 18.6L18.6 -18.6M18.6 55.8L55.8 18.6" stroke="#0000ff" stroke-width="6.8"/></pattern>
<pattern id="ver1" patternUnits="userSpaceOnUse" width="26.3" height="26.3" x="908" y="0"><rect width="26.3" height="26.3" fill="#fac8f0"/><rect x="0" y="0" width="7.6" height="26.3" fill="#ff40a0"/></pattern>
</defs>
<rect x="429.5" y="504.5" width="142" height="49.7" fill="url(#hat1)" stroke="#000" stroke-width="3"/>
<rect x="649.8" y="447.8" width="141.7" height="49.5" fill="url(#crs1)" stroke="#000" stroke-width="3"/>
<rect x="908.5" y="448.8" width="141" height="49.5" fill="url(#ver1)" stroke="#000" stroke-width="3"/>
<text x="696.5" y="598" font-family="'Liberation Sans', Arial, sans-serif" font-size="54.5" stroke="#000" stroke-width="0.9">&gt;&gt;</text>
<text x="955" y="598" font-family="'Liberation Sans', Arial, sans-serif" font-size="54.5" stroke="#000" stroke-width="0.9">&gt;&gt;</text>
<text transform="translate(465.5 480.3) scale(0.940 1)" font-family="'Liberation Serif', 'Times New Roman', serif" font-size="46" font-weight="bold" text-anchor="start">R<tspan font-size="30" dy="12.4">g</tspan></text>
<text transform="translate(684.5 417.3) scale(0.940 1)" font-family="'Liberation Serif', 'Times New Roman', serif" font-size="46" font-weight="bold" text-anchor="start">R<tspan font-size="30" dy="12.4">gb</tspan></text>
<text transform="translate(947.5 418.3) scale(0.940 1)" font-family="'Liberation Serif', 'Times New Roman', serif" font-size="46" font-weight="bold" text-anchor="start">R<tspan font-size="30" dy="12.4">e</tspan></text>
<text transform="translate(646 641.4) scale(0.940 1)" font-family="'Liberation Serif', 'Times New Roman', serif" font-size="46" font-weight="bold" text-anchor="start">CPE<tspan font-size="30" dy="12.4">gb</tspan></text>
<text transform="translate(932 645.2) scale(0.940 1)" font-family="'Liberation Serif', 'Times New Roman', serif" font-size="46" font-weight="bold" text-anchor="start">CPE<tspan font-size="30" dy="12.4">e</tspan></text>
<rect x="1256.8" y="66.4" width="701.8" height="597" fill="#fff" stroke="#000" stroke-width="3"/>
<path d="M1256.8 663.4h-12.5M1256.8 663.4v12.5M1256.8 573.9h-12.5M1362.1 663.4v12.5M1256.8 484.3h-12.5M1467.3 663.4v12.5M1256.8 394.8h-12.5M1572.6 663.4v12.5M1256.8 305.2h-12.5M1677.9 663.4v12.5M1256.8 215.6h-12.5M1783.2 663.4v12.5M1256.8 126.1h-12.5M1888.4 663.4v12.5" stroke="#000" stroke-width="3.4" fill="none"/>
<g clip-path="url(#iclip)" shape-rendering="crispEdges">
<path d="M1262.5 656h14v14h-14zM1262.5 654h14v14h-14zM1262.5 651.9h14v14h-14zM1262.5 649.8h14v14h-14zM1262.6 647.6h14v14h-14zM1262.8 645.3h14v14h-14zM1263 643h14v14h-14zM1263.3 640.6h14v14h-14zM1263.7 638.1h14v14h-14zM1264.1 635.5h14v14h-14zM1264.6 632.9h14v14h-14zM1265.2 630.2h14v14h-14zM1265.9 627.5h14v14h-14zM1266.7 624.6h14v14h-14zM1267.6 621.7h14v14h-14zM1268.6 618.7h14v14h-14zM1269.7 615.7h14v14h-14zM1270.9 612.6h14v14h-14zM1272.3 609.4h14v14h-14zM1273.8 606.1h14v14h-14zM1275.4 602.8h14v14h-14zM1277.2 599.4h14v14h-14zM1279.1 596h14v14h-14zM1281.2 592.5h14v14h-14zM1283.4 589h14v14h-14zM1285.8 585.5h14v14h-14zM1288.3 581.9h14v14h-14zM1291 578.3h14v14h-14zM1293.8 574.7h14v14h-14zM1296.7 571.1h14v14h-14zM1299.9 567.5h14v14h-14zM1303.2 563.8h14v14h-14zM1306.6 560.1h14v14h-14zM1310.3 556.5h14v14h-14zM1314.1 552.8h14v14h-14zM1318.1 549.2h14v14h-14zM1322.3 545.5h14v14h-14zM1326.7 541.9h14v14h-14zM1331.3 538.4h14v14h-14zM1336.1 534.8h14v14h-14zM1341.2 531.3h14v14h-14zM1346.4 527.9h14v14h-14zM1351.9 524.5h14v14h-14zM1357.6 521.2h14v14h-14zM1363.5 518h14v14h-14zM1369.7 514.9h14v14h-14zM1376.1 511.9h14v14h-14zM1382.6 509.1h14v14h-14zM1389.3 506.5h14v14h-14zM1396.2 504h14v14h-14zM1403.2 501.8h14v14h-14zM1410.3 499.7h14v14h-14zM1417.6 497.8h14v14h-14zM1425 496.2h14v14h-14zM1432.5 494.7h14v14h-14zM1440.2 493.6h14v14h-14zM1448 492.6h14v14h-14zM1455.9 492h14v14h-14zM1463.8 491.6h14v14h-14zM1471.6 491.5h14v14h-14zM1479.2 491.6h14v14h-14zM1486.7 492h14v14h-14zM1493.9 492.7h14v14h-14zM1501 493.5h14v14h-14zM1507.9 494.6h14v14h-14zM1514.6 495.8h14v14h-14zM1521.1 497.2h14v14h-14zM1527.5 498.7h14v14h-14zM1533.7 500.4h14v14h-14zM1539.6 502.1h14v14h-14zM1545.5 504h14v14h-14zM1551.1 505.9h14v14h-14zM1556.6 508h14v14h-14zM1562 510.1h14v14h-14zM1567.2 512.4h14v14h-14zM1572.3 514.6h14v14h-14zM1577.3 517h14v14h-14zM1582.2 519.4h14v14h-14zM1586.9 521.9h14v14h-14zM1591.5 524.4h14v14h-14zM1596 526.9h14v14h-14zM1600.3 529.5h14v14h-14zM1604.6 532.1h14v14h-14zM1608.7 534.8h14v14h-14zM1612.7 537.4h14v14h-14zM1616.6 540.1h14v14h-14zM1620.4 542.8h14v14h-14zM1624.1 545.5h14v14h-14zM1627.7 548.3h14v14h-14zM1631.2 551h14v14h-14zM1634.6 553.7h14v14h-14zM1637.9 556.5h14v14h-14zM1641.1 559.2h14v14h-14zM1644.3 562h14v14h-14zM1647.3 564.7h14v14h-14zM1650.3 567.4h14v14h-14zM1653.2 570.1h14v14h-14zM1656 572.8h14v14h-14zM1658.8 575.4h14v14h-14zM1661.5 578h14v14h-14zM1664.1 580.6h14v14h-14zM1666.8 583.1h14v14h-14zM1669.3 585.6h14v14h-14zM1671.8 588.1h14v14h-14zM1674.3 590.5h14v14h-14zM1676.7 592.9h14v14h-14zM1679.1 595.2h14v14h-14zM1681.5 597.5h14v14h-14zM1683.8 599.8h14v14h-14zM1686.2 602h14v14h-14zM1688.4 604.1h14v14h-14zM1690.7 606.2h14v14h-14zM1692.9 608.3h14v14h-14zM1695.1 610.3h14v14h-14zM1697.3 612.3h14v14h-14zM1699.4 614.2h14v14h-14zM1701.6 616.1h14v14h-14zM1703.7 617.9h14v14h-14zM1705.8 619.7h14v14h-14zM1707.9 621.4h14v14h-14zM1709.9 623.2h14v14h-14zM1711.8 624.9h14v14h-14zM1713.7 626.7h14v14h-14zM1715.5 628.5h14v14h-14zM1717.1 630.4h14v14h-14zM1718.6 632.3h14v14h-14zM1720 634.3h14v14h-14zM1721.1 636.3h14v14h-14zM1722.2 638.4h14v14h-14zM1723 640.5h14v14h-14zM1723.8 642.7h14v14h-14zM1724.4 644.8h14v14h-14zM1724.9 646.9h14v14h-14zM1725.3 649h14v14h-14zM1725.7 651.1h14v14h-14zM1726.1 653.1h14v14h-14zM1726.3 655.2h14v14h-14z" fill="#000000"/>
<path d="M1269.5 663 L1269.5 658.4 L1269.7 653.8 L1270.1 649.3 L1270.7 644.8 L1271.5 640.3 L1272.5 635.9 L1273.7 631.5 L1275.1 627.2 L1276.6 623 L1278.3 618.8 L1280.1 614.6 L1282.1 610.5 L1284.2 606.5 L1286.4 602.5 L1288.8 598.6 L1291.3 594.7 L1293.8 591 L1296.5 587.2 L1299.3 583.6 L1302.2 580 L1305.2 576.4 L1308.2 573 L1311.3 569.6 L1314.5 566.3 L1317.7 563 L1321.1 559.9 L1324.5 556.8 L1327.9 553.7 L1331.4 550.8 L1335 547.9 L1338.7 545.1 L1342.4 542.3 L1346.2 539.7 L1350 537.1 L1353.8 534.6 L1357.8 532.2 L1361.7 529.8 L1365.8 527.6 L1369.8 525.4 L1373.9 523.3 L1378.1 521.3 L1382.3 519.3 L1386.5 517.5 L1390.7 515.7 L1395 514 L1399.4 512.4 L1403.7 510.9 L1408.1 509.4 L1412.5 508.1 L1416.9 506.8 L1421.4 505.6 L1425.9 504.5 L1430.3 503.5 L1434.9 502.6 L1439.4 501.8 L1443.9 501 L1448.4 500.4 L1453 499.8 L1457.5 499.4 L1462.1 499 L1466.7 498.7 L1471.2 498.5 L1475.8 498.5 L1480.3 498.5 L1484.9 498.6 L1489.4 498.8 L1494 499.1 L1498.5 499.4 L1503 499.9 L1507.5 500.5 L1512 501.1 L1516.5 501.9 L1521 502.7 L1525.4 503.6 L1529.9 504.6 L1534.3 505.7 L1538.7 506.8 L1543.1 508 L1547.5 509.4 L1551.8 510.8 L1556.1 512.2 L1560.4 513.8 L1564.7 515.4 L1568.9 517.1 L1573.2 518.9 L1577.4 520.7 L1581.5 522.7 L1585.6 524.6 L1589.7 526.7 L1593.8 528.8 L1597.9 531 L1601.9 533.3 L1605.8 535.6 L1609.8 538 L1613.6 540.4 L1617.5 542.9 L1621.3 545.5 L1625.1 548.1 L1628.8 550.8 L1632.5 553.6 L1636.1 556.4 L1639.7 559.2 L1643.3 562.1 L1646.8 565.1 L1650.3 568.1 L1653.7 571.1 L1657.1 574.2 L1660.4 577.4 L1663.8 580.5 L1667.1 583.7 L1670.4 586.9 L1673.7 590 L1677 593.3 L1680.2 596.5 L1683.5 599.7 L1686.8 602.9 L1690.1 606 L1693.4 609.2 L1696.7 612.3 L1700.1 615.4 L1703.4 618.5 L1706.8 621.6 L1710.3 624.5 L1713.7 627.5 L1717.2 630.4 L1720.5 633.5 L1723.6 636.7 L1726.3 640.3 L1728.6 644.2 L1730.4 648.5 L1731.7 653.1 L1732.7 657.8 L1733.4 662.6" fill="none" stroke="#ff0000" stroke-width="6" stroke-linecap="round" stroke-linejoin="round"/>
<path d="M1266 663a7.5 7.5 0 1 0 15 0a7.5 7.5 0 1 0 -15 0zM1266 661a7.5 7.5 0 1 0 15 0a7.5 7.5 0 1 0 -15 0zM1266 658.9a7.5 7.5 0 1 0 15 0a7.5 7.5 0 1 0 -15 0zM1266.1 656.7a7.5 7.5 0 1 0 15 0a7.5 7.5 0 1 0 -15 0zM1266.2 654.4a7.5 7.5 0 1 0 15 0a7.5 7.5 0 1 0 -15 0zM1266.4 652a7.5 7.5 0 1 0 15 0a7.5 7.5 0 1 0 -15 0zM1266.6 649.4a7.5 7.5 0 1 0 15 0a7.5 7.5 0 1 0 -15 0zM1266.8 646.7a7.5 7.5 0 1 0 15 0a7.5 7.5 0 1 0 -15 0zM1267.2 643.9a7.5 7.5 0 1 0 15 0a7.5 7.5 0 1 0 -15 0zM1267.5 641a7.5 7.5 0 1 0 15 0a7.5 7.5 0 1 0 -15 0zM1268 637.9a7.5 7.5 0 1 0 15 0a7.5 7.5 0 1 0 -15 0zM1268.6 634.7a7.5 7.5 0 1 0 15 0a7.5 7.5 0 1 0 -15 0zM1269.2 631.4a7.5 7.5 0 1 0 15 0a7.5 7.5 0 1 0 -15 0zM1270 627.9a7.5 7.5 0 1 0 15 0a7.5 7.5 0 1 0 -15 0zM1270.9 624.2a7.5 7.5 0 1 0 15 0a7.5 7.5 0 1 0 -15 0zM1271.9 620.4a7.5 7.5 0 1 0 15 0a7.5 7.5 0 1 0 -15 0zM1273.1 616.4a7.5 7.5 0 1 0 15 0a7.5 7.5 0 1 0 -15 0zM1274.4 612.2a7.5 7.5 0 1 0 15 0a7.5 7.5 0 1 0 -15 0zM1275.9 607.9a7.5 7.5 0 1 0 15 0a7.5 7.5 0 1 0 -15 0zM1277.6 603.4a7.5 7.5 0 1 0 15 0a7.5 7.5 0 1 0 -15 0zM1279.6 598.7a7.5 7.5 0 1 0 15 0a7.5 7.5 0 1 0 -15 0zM1281.7 593.8a7.5 7.5 0 1 0 15 0a7.5 7.5 0 1 0 -15 0zM1284.1 588.8a7.5 7.5 0 1 0 15 0a7.5 7.5 0 1 0 -15 0zM1286.8 583.6a7.5 7.5 0 1 0 15 0a7.5 7.5 0 1 0 -15 0zM1289.8 578.2a7.5 7.5 0 1 0 15 0a7.5 7.5 0 1 0 -15 0zM1293.2 572.7a7.5 7.5 0 1 0 15 0a7.5 7.5 0 1 0 -15 0zM1296.9 567a7.5 7.5 0 1 0 15 0a7.5 7.5 0 1 0 -15 0zM1300.9 561.2a7.5 7.5 0 1 0 15 0a7.5 7.5 0 1 0 -15 0zM1305.4 555.2a7.5 7.5 0 1 0 15 0a7.5 7.5 0 1 0 -15 0zM1310.4 549.1a7.5 7.5 0 1 0 15 0a7.5 7.5 0 1 0 -15 0zM1315.8 542.9a7.5 7.5 0 1 0 15 0a7.5 7.5 0 1 0 -15 0zM1321.8 536.6a7.5 7.5 0 1 0 15 0a7.5 7.5 0 1 0 -15 0zM1328.3 530.3a7.5 7.5 0 1 0 15 0a7.5 7.5 0 1 0 -15 0zM1335.4 523.9a7.5 7.5 0 1 0 15 0a7.5 7.5 0 1 0 -15 0zM1343.2 517.6a7.5 7.5 0 1 0 15 0a7.5 7.5 0 1 0 -15 0zM1351.7 511.4a7.5 7.5 0 1 0 15 0a7.5 7.5 0 1 0 -15 0zM1360.9 505.2a7.5 7.5 0 1 0 15 0a7.5 7.5 0 1 0 -15 0zM1370.8 499.2a7.5 7.5 0 1 0 15 0a7.5 7.5 0 1 0 -15 0zM1381.5 493.4a7.5 7.5 0 1 0 15 0a7.5 7.5 0 1 0 -15 0zM1392.9 487.9a7.5 7.5 0 1 0 15 0a7.5 7.5 0 1 0 -15 0zM1405 482.7a7.5 7.5 0 1 0 15 0a7.5 7.5 0 1 0 -15 0zM1417.8 477.7a7.5 7.5 0 1 0 15 0a7.5 7.5 0 1 0 -15 0zM1431.4 473.1a7.5 7.5 0 1 0 15 0a7.5 7.5 0 1 0 -15 0zM1445.7 468.8a7.5 7.5 0 1 0 15 0a7.5 7.5 0 1 0 -15 0zM1460.7 464.9a7.5 7.5 0 1 0 15 0a7.5 7.5 0 1 0 -15 0zM1476.5 461.3a7.5 7.5 0 1 0 15 0a7.5 7.5 0 1 0 -15 0zM1493 458.2a7.5 7.5 0 1 0 15 0a7.5 7.5 0 1 0 -15 0zM1509.9 455.8a7.5 7.5 0 1 0 15 0a7.5 7.5 0 1 0 -15 0zM1526.8 454.2a7.5 7.5 0 1 0 15 0a7.5 7.5 0 1 0 -15 0zM1543.8 453.6a7.5 7.5 0 1 0 15 0a7.5 7.5 0 1 0 -15 0zM1560.8 453.9a7.5 7.5 0 1 0 15 0a7.5 7.5 0 1 0 -15 0zM1577.6 455.2a7.5 7.5 0 1 0 15 0a7.5 7.5 0 1 0 -15 0zM1593.3 457.3a7.5 7.5 0 1 0 15 0a7.5 7.5 0 1 0 -15 0zM1607.9 460.1a7.5 7.5 0 1 0 15 0a7.5 7.5 0 1 0 -15 0zM1621.4 463.5a7.5 7.5 0 1 0 15 0a7.5 7.5 0 1 0 -15 0zM1633.9 467.4a7.5 7.5 0 1 0 15 0a7.5 7.5 0 1 0 -15 0zM1645.3 471.6a7.5 7.5 0 1 0 15 0a7.5 7.5 0 1 0 -15 0zM1655.9 476.1a7.5 7.5 0 1 0 15 0a7.5 7.5 0 1 0 -15 0zM1665.5 480.8a7.5 7.5 0 1 0 15 0a7.5 7.5 0 1 0 -15 0zM1674.4 485.7a7.5 7.5 0 1 0 15 0a7.5 7.5 0 1 0 -15 0zM1682.4 490.6a7.5 7.5 0 1 0 15 0a7.5 7.5 0 1 0 -15 0zM1689.8 495.6a7.5 7.5 0 1 0 15 0a7.5 7.5 0 1 0 -15 0zM1696.5 500.4a7.5 7.5 0 1 0 15 0a7.5 7.5 0 1 0 -15 0zM1702.7 505.1a7.5 7.5 0 1 0 15 0a7.5 7.5 0 1 0 -15 0zM1708.4 509.6a7.5 7.5 0 1 0 15 0a7.5 7.5 0 1 0 -15 0zM1713.8 513.9a7.5 7.5 0 1 0 15 0a7.5 7.5 0 1 0 -15 0zM1718.7 518a7.5 7.5 0 1 0 15 0a7.5 7.5 0 1 0 -15 0zM1723.3 521.8a7.5 7.5 0 1 0 15 0a7.5 7.5 0 1 0 -15 0zM1727.9 525.6a7.5 7.5 0 1 0 15 0a7.5 7.5 0 1 0 -15 0zM1732.3 529.3a7.5 7.5 0 1 0 15 0a7.5 7.5 0 1 0 -15 0zM1736.7 532.9a7.5 7.5 0 1 0 15 0a7.5 7.5 0 1 0 -15 0zM1740.9 536.4a7.5 7.5 0 1 0 15 0a7.5 7.5 0 1 0 -15 0zM1745.2 539.8a7.5 7.5 0 1 0 15 0a7.5 7.5 0 1 0 -15 0zM1749.4 543.2a7.5 7.5 0 1 0 15 0a7.5 7.5 0 1 0 -15 0zM1753.5 546.4a7.5 7.5 0 1 0 15 0a7.5 7.5 0 1 0 -15 0zM1757.6 549.5a7.5 7.5 0 1 0 15 0a7.5 7.5 0 1 0 -15 0zM1761.7 552.4a7.5 7.5 0 1 0 15 0a7.5 7.5 0 1 0 -15 0zM1765.7 555.3a7.5 7.5 0 1 0 15 0a7.5 7.5 0 1 0 -15 0zM1769.7 558.1a7.5 7.5 0 1 0 15 0a7.5 7.5 0 1 0 -15 0zM1773.6 560.8a7.5 7.5 0 1 0 15 0a7.5 7.5 0 1 0 -15 0zM1777.5 563.4a7.5 7.5 0 1 0 15 0a7.5 7.5 0 1 0 -15 0zM1781.3 565.9a7.5 7.5 0 1 0 15 0a7.5 7.5 0 1 0 -15 0zM1785 568.3a7.5 7.5 0 1 0 15 0a7.5 7.5 0 1 0 -15 0zM1788.7 570.7a7.5 7.5 0 1 0 15 0a7.5 7.5 0 1 0 -15 0zM1792.4 573.1a7.5 7.5 0 1 0 15 0a7.5 7.5 0 1 0 -15 0zM1795.9 575.3a7.5 7.5 0 1 0 15 0a7.5 7.5 0 1 0 -15 0zM1799.4 577.6a7.5 7.5 0 1 0 15 0a7.5 7.5 0 1 0 -15 0zM1802.9 579.7a7.5 7.5 0 1 0 15 0a7.5 7.5 0 1 0 -15 0zM1806.2 581.9a7.5 7.5 0 1 0 15 0a7.5 7.5 0 1 0 -15 0zM1809.5 584a7.5 7.5 0 1 0 15 0a7.5 7.5 0 1 0 -15 0zM1812.8 586.1a7.5 7.5 0 1 0 15 0a7.5 7.5 0 1 0 -15 0zM1816 588.1a7.5 7.5 0 1 0 15 0a7.5 7.5 0 1 0 -15 0zM1819.1 590.2a7.5 7.5 0 1 0 15 0a7.5 7.5 0 1 0 -15 0zM1822.2 592.2a7.5 7.5 0 1 0 15 0a7.5 7.5 0 1 0 -15 0zM1825.2 594.2a7.5 7.5 0 1 0 15 0a7.5 7.5 0 1 0 -15 0zM1828.1 596.1a7.5 7.5 0 1 0 15 0a7.5 7.5 0 1 0 -15 0zM1831 598.1a7.5 7.5 0 1 0 15 0a7.5 7.5 0 1 0 -15 0zM1833.9 600a7.5 7.5 0 1 0 15 0a7.5 7.5 0 1 0 -15 0zM1836.6 602a7.5 7.5 0 1 0 15 0a7.5 7.5 0 1 0 -15 0zM1839.3 603.9a7.5 7.5 0 1 0 15 0a7.5 7.5 0 1 0 -15 0zM1842 605.8a7.5 7.5 0 1 0 15 0a7.5 7.5 0 1 0 -15 0zM1844.6 607.7a7.5 7.5 0 1 0 15 0a7.5 7.5 0 1 0 -15 0zM1847.1 609.6a7.5 7.5 0 1 0 15 0a7.5 7.5 0 1 0 -15 0zM1849.5 611.5a7.5 7.5 0 1 0 15 0a7.5 7.5 0 1 0 -15 0zM1851.9 613.4a7.5 7.5 0 1 0 15 0a7.5 7.5 0 1 0 -15 0zM1854.2 615.3a7.5 7.5 0 1 0 15 0a7.5 7.5 0 1 0 -15 0zM1856.4 617.3a7.5 7.5 0 1 0 15 0a7.5 7.5 0 1 0 -15 0zM1858.6 619.2a7.5 7.5 0 1 0 15 0a7.5 7.5 0 1 0 -15 0zM1860.6 621.2a7.5 7.5 0 1 0 15 0a7.5 7.5 0 1 0 -15 0zM1862.6 623.2a7.5 7.5 0 1 0 15 0a7.5 7.5 0 1 0 -15 0zM1864.5 625.2a7.5 7.5 0 1 0 15 0a7.5 7.5 0 1 0 -15 0zM1866.3 627.2a7.5 7.5 0 1 0 15 0a7.5 7.5 0 1 0 -15 0zM1868 629.2a7.5 7.5 0 1 0 15 0a7.5 7.5 0 1 0 -15 0zM1869.7 631.3a7.5 7.5 0 1 0 15 0a7.5 7.5 0 1 0 -15 0zM1871.2 633.4a7.5 7.5 0 1 0 15 0a7.5 7.5 0 1 0 -15 0zM1872.6 635.4a7.5 7.5 0 1 0 15 0a7.5 7.5 0 1 0 -15 0zM1874 637.5a7.5 7.5 0 1 0 15 0a7.5 7.5 0 1 0 -15 0zM1875.2 639.6a7.5 7.5 0 1 0 15 0a7.5 7.5 0 1 0 -15 0zM1876.4 641.7a7.5 7.5 0 1 0 15 0a7.5 7.5 0 1 0 -15 0zM1877.5 643.9a7.5 7.5 0 1 0 15 0a7.5 7.5 0 1 0 -15 0zM1878.5 646a7.5 7.5 0 1 0 15 0a7.5 7.5 0 1 0 -15 0zM1879.4 648.1a7.5 7.5 0 1 0 15 0a7.5 7.5 0 1 0 -15 0zM1880.2 650.2a7.5 7.5 0 1 0 15 0a7.5 7.5 0 1 0 -15 0zM1880.9 652.3a7.5 7.5 0 1 0 15 0a7.5 7.5 0 1 0 -15 0zM1881.6 654.3a7.5 7.5 0 1 0 15 0a7.5 7.5 0 1 0 -15 0zM1882.1 656.4a7.5 7.5 0 1 0 15 0a7.5 7.5 0 1 0 -15 0zM1882.7 658.4a7.5 7.5 0 1 0 15 0a7.5 7.5 0 1 0 -15 0zM1883.1 660.5a7.5 7.5 0 1 0 15 0a7.5 7.5 0 1 0 -15 0zM1883.5 662.5a7.5 7.5 0 1 0 15 0a7.5 7.5 0 1 0 -15 0zM1286.5 641a7.5 7.5 0 1 0 15 0a7.5 7.5 0 1 0 -15 0zM1289.5 646a7.5 7.5 0 1 0 15 0a7.5 7.5 0 1 0 -15 0z" fill="#0000ff"/>
<path d="M1273.5 663 L1273.6 657 L1273.9 651 L1274.5 645 L1275.3 639 L1276.4 633.1 L1277.6 627.3 L1279.1 621.5 L1280.8 615.7 L1282.6 610.1 L1284.7 604.4 L1287 598.9 L1289.4 593.4 L1292 588 L1294.8 582.7 L1297.8 577.4 L1301 572.3 L1304.2 567.2 L1307.7 562.2 L1311.3 557.3 L1315 552.6 L1318.9 547.9 L1322.9 543.4 L1327 539 L1331.2 534.6 L1335.6 530.5 L1340.1 526.4 L1344.6 522.5 L1349.3 518.7 L1354.1 515.1 L1358.9 511.6 L1363.9 508.2 L1368.9 504.9 L1374 501.8 L1379.1 498.8 L1384.4 495.9 L1389.7 493.1 L1395.1 490.4 L1400.5 487.9 L1406 485.4 L1411.5 483.1 L1417.1 480.8 L1422.7 478.7 L1428.4 476.6 L1434.1 474.7 L1439.8 472.8 L1445.6 471 L1451.4 469.3 L1457.2 467.7 L1463 466.2 L1468.9 464.7 L1474.7 463.3 L1480.6 462 L1486.5 460.8 L1492.4 459.6 L1498.2 458.6 L1504.2 457.6 L1510.1 456.7 L1516 456 L1521.9 455.3 L1527.9 454.7 L1533.9 454.3 L1539.8 453.9 L1545.8 453.7 L1551.8 453.6 L1557.8 453.6 L1563.9 453.7 L1569.9 454 L1575.9 454.3 L1582 454.9 L1588 455.5 L1594 456.3 L1600 457.2 L1606 458.2 L1611.9 459.4 L1617.9 460.7 L1623.8 462.1 L1629.6 463.7 L1635.4 465.4 L1641.1 467.3 L1646.8 469.3 L1652.4 471.4 L1658 473.7 L1663.5 476.1 L1668.9 478.7 L1674.2 481.4 L1679.4 484.3 L1684.6 487.3 L1689.6 490.4 L1694.6 493.7 L1699.5 497.1 L1704.3 500.6 L1709 504.2 L1713.8 507.9 L1718.4 511.6 L1723.1 515.4 L1727.7 519.2 L1732.3 523.1 L1737 526.9 L1741.6 530.8 L1746.2 534.6 L1750.9 538.4 L1755.6 542.2 L1760.4 545.9 L1765.2 549.5 L1770 553.1 L1775 556.5 L1779.9 560 L1784.9 563.3 L1790 566.7 L1795 570 L1800.1 573.2 L1805.2 576.5 L1810.3 579.7 L1815.4 582.9 L1820.4 586.2 L1825.5 589.4 L1830.5 592.7 L1835.4 596 L1840.4 599.3 L1845.3 602.7 L1850.1 606.2 L1854.8 609.8 L1859.4 613.4 L1863.8 617.2 L1868.1 621.2 L1872.1 625.3 L1875.9 629.7 L1879.4 634.4 L1882.6 639.3 L1885.3 644.6 L1887.7 650.2 L1889.6 656.2 L1891 662.6" fill="none" stroke="#ff0000" stroke-width="6" stroke-linecap="round" stroke-linejoin="round"/>
<path d="M1273 653.8L1282.2 663L1273 672.2L1263.8 663zM1273 651.8L1282.2 661L1273 670.2L1263.8 661zM1273 649.7L1282.2 658.9L1273 668.1L1263.8 658.9zM1273.1 647.5L1282.3 656.7L1273.1 665.9L1263.9 656.7zM1273.2 645.2L1282.4 654.4L1273.2 663.6L1264 654.4zM1273.3 642.8L1282.5 652L1273.3 661.2L1264.1 652zM1273.5 640.3L1282.7 649.5L1273.5 658.7L1264.3 649.5zM1273.7 637.6L1282.9 646.8L1273.7 656L1264.5 646.8zM1274 634.9L1283.2 644.1L1274 653.3L1264.8 644.1zM1274.4 632L1283.6 641.2L1274.4 650.4L1265.2 641.2zM1274.8 629L1284 638.2L1274.8 647.4L1265.6 638.2zM1275.3 625.8L1284.5 635L1275.3 644.2L1266.1 635zM1275.9 622.5L1285.1 631.7L1275.9 640.9L1266.7 631.7zM1276.5 619.1L1285.7 628.3L1276.5 637.5L1267.3 628.3zM1277.3 615.5L1286.5 624.7L1277.3 633.9L1268.1 624.7zM1278.2 611.8L1287.4 621L1278.2 630.2L1269 621zM1279.3 607.9L1288.5 617.1L1279.3 626.3L1270.1 617.1zM1280.5 603.8L1289.7 613L1280.5 622.2L1271.3 613zM1281.8 599.6L1291 608.8L1281.8 618L1272.6 608.8zM1283.3 595.2L1292.5 604.4L1283.3 613.6L1274.1 604.4zM1285.1 590.7L1294.3 599.9L1285.1 609.1L1275.9 599.9zM1287 586L1296.2 595.2L1287 604.4L1277.8 595.2zM1289.2 581.1L1298.4 590.3L1289.2 599.5L1280 590.3zM1291.7 576L1300.9 585.2L1291.7 594.4L1282.5 585.2zM1294.4 570.9L1303.6 580.1L1294.4 589.3L1285.2 580.1zM1297.4 565.5L1306.6 574.7L1297.4 583.9L1288.2 574.7zM1300.8 560L1310 569.2L1300.8 578.4L1291.6 569.2zM1304.5 554.4L1313.7 563.6L1304.5 572.8L1295.3 563.6zM1308.6 548.6L1317.8 557.8L1308.6 567L1299.4 557.8zM1313.1 542.7L1322.3 551.9L1313.1 561.1L1303.9 551.9zM1318 536.7L1327.2 545.9L1318 555.1L1308.8 545.9zM1323.4 530.6L1332.6 539.8L1323.4 549L1314.2 539.8zM1329.3 524.4L1338.5 533.6L1329.3 542.8L1320.1 533.6zM1335.7 518.2L1344.9 527.4L1335.7 536.6L1326.5 527.4zM1342.6 511.9L1351.8 521.1L1342.6 530.3L1333.4 521.1zM1350.1 505.6L1359.3 514.8L1350.1 524L1340.9 514.8zM1358.2 499.2L1367.4 508.4L1358.2 517.6L1349 508.4zM1367 492.9L1376.2 502.1L1367 511.3L1357.8 502.1zM1376.4 486.7L1385.6 495.9L1376.4 505.1L1367.2 495.9zM1386.5 480.6L1395.7 489.8L1386.5 499L1377.3 489.8zM1397.3 474.6L1406.5 483.8L1397.3 493L1388.1 483.8zM1408.8 468.9L1418 478.1L1408.8 487.3L1399.6 478.1zM1421 463.5L1430.2 472.7L1421 481.9L1411.8 472.7zM1433.9 458.4L1443.1 467.6L1433.9 476.8L1424.7 467.6zM1447.5 453.7L1456.7 462.9L1447.5 472.1L1438.3 462.9zM1461.9 449.5L1471.1 458.7L1461.9 467.9L1452.7 458.7zM1477.1 445.9L1486.3 455.1L1477.1 464.3L1467.9 455.1zM1493 442.8L1502.2 452L1493 461.2L1483.8 452zM1509.7 440.5L1518.9 449.7L1509.7 458.9L1500.5 449.7zM1526.6 439L1535.8 448.2L1526.6 457.4L1517.4 448.2zM1543.6 438.4L1552.8 447.6L1543.6 456.8L1534.4 447.6zM1560.6 438.6L1569.8 447.8L1560.6 457L1551.4 447.8zM1577.6 439.8L1586.8 449L1577.6 458.2L1568.4 449zM1594.5 441.8L1603.7 451L1594.5 460.2L1585.3 451zM1610.3 444.5L1619.5 453.7L1610.3 462.9L1601.1 453.7zM1625.1 447.7L1634.3 456.9L1625.1 466.1L1615.9 456.9zM1638.8 451.4L1648 460.6L1638.8 469.8L1629.6 460.6zM1651.6 455.5L1660.8 464.7L1651.6 473.9L1642.4 464.7zM1663.4 459.8L1672.6 469L1663.4 478.2L1654.2 469zM1674.3 464.3L1683.5 473.5L1674.3 482.7L1665.1 473.5zM1684.5 468.9L1693.7 478.1L1684.5 487.3L1675.3 478.1zM1693.8 473.6L1703 482.8L1693.8 492L1684.6 482.8zM1702.4 478.3L1711.6 487.5L1702.4 496.7L1693.2 487.5zM1710.4 482.9L1719.6 492.1L1710.4 501.3L1701.2 492.1zM1717.8 487.6L1727 496.8L1717.8 506L1708.6 496.8zM1724.5 492.1L1733.7 501.3L1724.5 510.5L1715.3 501.3zM1730.8 496.6L1740 505.8L1730.8 515L1721.6 505.8zM1736.6 500.9L1745.8 510.1L1736.6 519.3L1727.4 510.1zM1742 505L1751.2 514.2L1742 523.4L1732.8 514.2zM1747 508.9L1756.2 518.1L1747 527.3L1737.8 518.1zM1751.7 512.7L1760.9 521.9L1751.7 531.1L1742.5 521.9zM1756.3 516.3L1765.5 525.5L1756.3 534.7L1747.1 525.5zM1760.8 520L1770 529.2L1760.8 538.4L1751.6 529.2zM1765.2 523.5L1774.4 532.7L1765.2 541.9L1756 532.7zM1769.6 527L1778.8 536.2L1769.6 545.4L1760.4 536.2zM1773.8 530.4L1783 539.6L1773.8 548.8L1764.6 539.6zM1778.1 533.7L1787.3 542.9L1778.1 552.1L1768.9 542.9zM1782.2 536.9L1791.4 546.1L1782.2 555.3L1773 546.1zM1786.4 540L1795.6 549.2L1786.4 558.4L1777.2 549.2zM1790.5 543L1799.7 552.2L1790.5 561.4L1781.3 552.2zM1794.6 545.9L1803.8 555.1L1794.6 564.3L1785.4 555.1zM1798.6 548.6L1807.8 557.8L1798.6 567L1789.4 557.8zM1802.6 551.3L1811.8 560.5L1802.6 569.7L1793.4 560.5zM1806.6 553.8L1815.8 563L1806.6 572.2L1797.4 563zM1810.5 556.2L1819.7 565.4L1810.5 574.6L1801.3 565.4zM1814.5 558.5L1823.7 567.7L1814.5 576.9L1805.3 567.7zM1818.3 560.7L1827.5 569.9L1818.3 579.1L1809.1 569.9zM1822.2 562.8L1831.4 572L1822.2 581.2L1813 572zM1825.9 564.8L1835.1 574L1825.9 583.2L1816.7 574zM1829.7 566.8L1838.9 576L1829.7 585.2L1820.5 576zM1833.3 568.7L1842.5 577.9L1833.3 587.1L1824.1 577.9zM1836.9 570.6L1846.1 579.8L1836.9 589L1827.7 579.8zM1840.5 572.4L1849.7 581.6L1840.5 590.8L1831.3 581.6zM1843.9 574.2L1853.1 583.4L1843.9 592.6L1834.7 583.4zM1847.4 576L1856.6 585.2L1847.4 594.4L1838.2 585.2zM1850.7 577.8L1859.9 587L1850.7 596.2L1841.5 587zM1854 579.5L1863.2 588.7L1854 597.9L1844.8 588.7zM1857.3 581.3L1866.5 590.5L1857.3 599.7L1848.1 590.5zM1860.5 583L1869.7 592.2L1860.5 601.4L1851.3 592.2zM1863.6 584.8L1872.8 594L1863.6 603.2L1854.4 594zM1866.6 586.5L1875.8 595.7L1866.6 604.9L1857.4 595.7zM1869.6 588.2L1878.8 597.4L1869.6 606.6L1860.4 597.4zM1872.5 590L1881.7 599.2L1872.5 608.4L1863.3 599.2zM1875.3 591.8L1884.5 601L1875.3 610.2L1866.1 601zM1878.1 593.6L1887.3 602.8L1878.1 612L1868.9 602.8zM1880.8 595.3L1890 604.5L1880.8 613.7L1871.6 604.5zM1883.4 597.2L1892.6 606.4L1883.4 615.6L1874.2 606.4zM1885.9 599L1895.1 608.2L1885.9 617.4L1876.7 608.2zM1888.4 600.8L1897.6 610L1888.4 619.2L1879.2 610zM1890.8 602.7L1900 611.9L1890.8 621.1L1881.6 611.9zM1893.1 604.6L1902.3 613.8L1893.1 623L1883.9 613.8zM1895.3 606.5L1904.5 615.7L1895.3 624.9L1886.1 615.7zM1897.5 608.4L1906.7 617.6L1897.5 626.8L1888.3 617.6zM1899.5 610.4L1908.7 619.6L1899.5 628.8L1890.3 619.6zM1901.5 612.4L1910.7 621.6L1901.5 630.8L1892.3 621.6zM1903.4 614.4L1912.6 623.6L1903.4 632.8L1894.2 623.6zM1905.2 616.4L1914.4 625.6L1905.2 634.8L1896 625.6zM1906.9 618.4L1916.1 627.6L1906.9 636.8L1897.7 627.6zM1908.6 620.5L1917.8 629.7L1908.6 638.9L1899.4 629.7zM1910.1 622.5L1919.3 631.7L1910.1 640.9L1900.9 631.7zM1911.6 624.6L1920.8 633.8L1911.6 643L1902.4 633.8zM1912.9 626.7L1922.1 635.9L1912.9 645.1L1903.7 635.9zM1914.2 628.8L1923.4 638L1914.2 647.2L1905 638zM1915.4 630.9L1924.6 640.1L1915.4 649.3L1906.2 640.1zM1916.5 633L1925.7 642.2L1916.5 651.4L1907.3 642.2zM1917.5 635.2L1926.7 644.4L1917.5 653.6L1908.3 644.4zM1918.5 637.3L1927.7 646.5L1918.5 655.7L1909.3 646.5zM1919.3 639.4L1928.5 648.6L1919.3 657.8L1910.1 648.6zM1920.1 641.4L1929.3 650.6L1920.1 659.8L1910.9 650.6zM1920.8 643.5L1930 652.7L1920.8 661.9L1911.6 652.7zM1921.5 645.6L1930.7 654.8L1921.5 664L1912.3 654.8zM1922.1 647.6L1931.3 656.8L1922.1 666L1912.9 656.8zM1922.6 649.7L1931.8 658.9L1922.6 668.1L1913.4 658.9zM1923 651.7L1932.2 660.9L1923 670.1L1913.8 660.9zM1286 630.8L1295.2 640L1286 649.2L1276.8 640zM1295 635.8L1304.2 645L1295 654.2L1285.8 645zM1290 645.8L1299.2 655L1290 664.2L1280.8 655zM1300 650.8L1309.2 660L1300 669.2L1290.8 660zM1282 650.8L1291.2 660L1282 669.2L1272.8 660zM1276 645.8L1285.2 655L1276 664.2L1266.8 655z" fill="#00ff00"/>
<path d="M1273 663 L1273.1 656.4 L1273.5 649.9 L1274.1 643.5 L1274.9 637.1 L1276 630.8 L1277.3 624.7 L1278.8 618.6 L1280.6 612.6 L1282.5 606.7 L1284.7 600.9 L1287 595.2 L1289.6 589.5 L1292.3 584 L1295.2 578.6 L1298.3 573.3 L1301.5 568 L1305 562.9 L1308.6 557.9 L1312.3 552.9 L1316.2 548.1 L1320.2 543.4 L1324.4 538.7 L1328.7 534.2 L1333.1 529.8 L1337.7 525.5 L1342.3 521.3 L1347.1 517.2 L1352 513.2 L1357 509.4 L1362 505.6 L1367.2 502 L1372.4 498.5 L1377.8 495 L1383.2 491.8 L1388.6 488.6 L1394.2 485.5 L1399.7 482.6 L1405.4 479.8 L1411.1 477.1 L1416.8 474.5 L1422.6 472 L1428.5 469.7 L1434.4 467.4 L1440.4 465.3 L1446.3 463.3 L1452.4 461.4 L1458.4 459.7 L1464.5 458.1 L1470.6 456.5 L1476.8 455.1 L1483 453.9 L1489.2 452.7 L1495.4 451.6 L1501.6 450.7 L1507.9 449.9 L1514.2 449.2 L1520.5 448.7 L1526.8 448.2 L1533.1 447.9 L1539.4 447.7 L1545.7 447.6 L1552 447.6 L1558.3 447.8 L1564.6 448 L1570.8 448.4 L1577.1 448.9 L1583.4 449.6 L1589.6 450.3 L1595.8 451.2 L1602 452.2 L1608.2 453.3 L1614.4 454.5 L1620.5 455.8 L1626.6 457.3 L1632.6 458.9 L1638.7 460.6 L1644.6 462.4 L1650.6 464.4 L1656.5 466.4 L1662.3 468.6 L1668.2 470.9 L1673.9 473.3 L1679.6 475.8 L1685.3 478.5 L1690.9 481.3 L1696.4 484.1 L1701.9 487.1 L1707.3 490.3 L1712.6 493.5 L1717.9 496.8 L1723.1 500.3 L1728.2 503.9 L1733.3 507.6 L1738.3 511.3 L1743.3 515.2 L1748.2 519.1 L1753.1 523 L1758 526.9 L1762.9 530.9 L1767.8 534.8 L1772.8 538.8 L1777.8 542.7 L1782.8 546.5 L1787.8 550.3 L1793 553.9 L1798.2 557.5 L1803.4 561 L1808.8 564.3 L1814.3 567.6 L1819.8 570.7 L1825.4 573.7 L1831 576.7 L1836.7 579.6 L1842.3 582.6 L1847.9 585.5 L1853.5 588.4 L1859 591.4 L1864.5 594.5 L1869.9 597.6 L1875.1 600.9 L1880.3 604.2 L1885.3 607.7 L1890.2 611.4 L1894.8 615.3 L1899.3 619.3 L1903.5 623.7 L1907.4 628.2 L1911.1 633.1 L1914.4 638.3 L1917.3 643.8 L1919.8 649.7 L1921.8 655.9 L1923.4 662.6" fill="none" stroke="#ff0000" stroke-width="6" stroke-linecap="round" stroke-linejoin="round"/>
</g>
<text transform="translate(1240 673) scale(0.985 1)" font-family="'Liberation Sans', Arial, sans-serif" font-size="34" font-weight="normal" text-anchor="end">0</text>
<text transform="translate(1256.8 710.5) scale(0.985 1)" font-family="'Liberation Sans', Arial, sans-serif" font-size="34" font-weight="normal" text-anchor="middle">0</text>
<text transform="translate(1240 583.5) scale(0.985 1)" font-family="'Liberation Sans', Arial, sans-serif" font-size="34" font-weight="normal" text-anchor="end">600</text>
<text transform="translate(1362.1 710.5) scale(0.985 1)" font-family="'Liberation Sans', Arial, sans-serif" font-size="34" font-weight="normal" text-anchor="middle">600</text>
<text transform="translate(1240 493.9) scale(0.985 1)" font-family="'Liberation Sans', Arial, sans-serif" font-size="34" font-weight="normal" text-anchor="end">1200</text>
<text transform="translate(1467.3 710.5) scale(0.985 1)" font-family="'Liberation Sans', Arial, sans-serif" font-size="34" font-weight="normal" text-anchor="middle">1200</text>
<text transform="translate(1240 404.4) scale(0.985 1)" font-family="'Liberation Sans', Arial, sans-serif" font-size="34" font-weight="normal" text-anchor="end">1800</text>
<text transform="translate(1572.6 710.5) scale(0.985 1)" font-family="'Liberation Sans', Arial, sans-serif" font-size="34" font-weight="normal" text-anchor="middle">1800</text>
<text transform="translate(1240 314.8) scale(0.985 1)" font-family="'Liberation Sans', Arial, sans-serif" font-size="34" font-weight="normal" text-anchor="end">2400</text>
<text transform="translate(1677.9 710.5) scale(0.985 1)" font-family="'Liberation Sans', Arial, sans-serif" font-size="34" font-weight="normal" text-anchor="middle">2400</text>
<text transform="translate(1240 225.2) scale(0.985 1)" font-family="'Liberation Sans', Arial, sans-serif" font-size="34" font-weight="normal" text-anchor="end">3000</text>
<text transform="translate(1783.2 710.5) scale(0.985 1)" font-family="'Liberation Sans', Arial, sans-serif" font-size="34" font-weight="normal" text-anchor="middle">3000</text>
<text transform="translate(1240 135.7) scale(0.985 1)" font-family="'Liberation Sans', Arial, sans-serif" font-size="34" font-weight="normal" text-anchor="end">3600</text>
<text transform="translate(1888.4 710.5) scale(0.985 1)" font-family="'Liberation Sans', Arial, sans-serif" font-size="34" font-weight="normal" text-anchor="middle">3600</text>
<text x="1561" y="773" font-family="'Liberation Sans', Arial, sans-serif" font-weight="bold" font-size="37">Z' <tspan font-weight="normal" font-size="36">(Ω)</tspan></text>
<text transform="translate(1152.6 366.5) rotate(-90) scale(0.970 1)" font-family="'Liberation Sans', Arial, sans-serif" font-size="40" font-weight="bold" text-anchor="middle">Z'' <tspan font-weight="normal" font-size="39">(Ω)</tspan></text>
<rect x="1293" y="103" width="141" height="46.7" fill="#000"/>
<rect x="1286" y="95" width="139" height="45.6" fill="#fff" stroke="#000" stroke-width="2"/>
<text x="1287" y="127.4" font-family="'Liberation Sans', Arial, sans-serif" font-weight="bold" font-size="34" textLength="136" lengthAdjust="spacingAndGlyphs">T<tspan font-size="23" dy="8">s</tspan><tspan dy="-8">=600°C</tspan></text>
<path d="M1358.4 282.5L1382.8 282.5M1457.9 283.2L1480.4 283.2M1480.4 252.5L1480.4 310.6M1480.4 253.1L1497 253.1M1480.4 309.5L1523.8 309.5M1553.8 309.5L1589.9 309.5M1571.9 253.6L1589.9 253.6M1589.9 252.8L1589.9 311.4M1589.9 283L1614.2 283M1614.2 252.8L1614.2 310.3M1614.2 253.6L1631 253.6M1614.2 309.5L1657.4 309.5M1688 309L1723.3 309M1705.6 253.6L1721.5 253.6M1721.5 252.8L1721.5 309.8M1721.5 283L1747.6 283" stroke="#000" stroke-width="2" fill="none"/>
<circle cx="1358.5" cy="282.5" r="6.8" fill="#000"/>
<circle cx="1747.6" cy="283.8" r="6.8" fill="#000"/>
<defs>
<pattern id="hat2" patternUnits="userSpaceOnUse" width="10.3" height="10.3" x="1384.8" y="297.9"><rect width="10.3" height="10.3" fill="#ffff80"/><path d="M-5.2 5.2L5.2 -5.2M-5.2 15.5L15.5 -5.2M5.2 15.5L15.5 5.2" stroke="#ff0000" stroke-width="4.2"/></pattern>
<pattern id="crs2" patternUnits="userSpaceOnUse" width="15.7" height="15.7" x="1498.5" y="242.3"><rect width="15.7" height="15.7" fill="#aaffe0"/><path d="M-7.8 -7.8L23.5 23.5M23.5 -7.8L-7.8 23.5M-7.8 7.8L7.8 23.5M7.8 -7.8L23.5 7.8M-7.8 7.8L7.8 -7.8M7.8 23.5L23.5 7.8" stroke="#0000ff" stroke-width="4.2"/></pattern>
<pattern id="ver2" patternUnits="userSpaceOnUse" width="10.6" height="10.6" x="1631.5" y="0"><rect width="10.6" height="10.6" fill="#fac8f0"/><rect x="0" y="0" width="3.2" height="10.6" fill="#ff40a0"/></pattern>
</defs>
<rect x="1383.6" y="270.5" width="73.5" height="26.6" fill="url(#hat2)" stroke="#000" stroke-width="1.6"/>
<rect x="1497.8" y="240.1" width="73.4" height="26.5" fill="url(#crs2)" stroke="#000" stroke-width="1.6"/>
<rect x="1631.8" y="240.7" width="73" height="26.5" fill="url(#ver2)" stroke="#000" stroke-width="1.6"/>
<text x="1521.9" y="322.4" font-family="'Liberation Sans', Arial, sans-serif" font-size="28" stroke="#000" stroke-width="0.5">&gt;&gt;</text>
<text x="1655.9" y="322.4" font-family="'Liberation Sans', Arial, sans-serif" font-size="28" stroke="#000" stroke-width="0.5">&gt;&gt;</text>
<text transform="translate(1401.5 258) scale(0.900 1)" font-family="'Liberation Sans', Arial, sans-serif" font-size="25" font-weight="normal" text-anchor="start">R<tspan font-size="17.5" dy="6.8">g</tspan></text>
<text transform="translate(1515.5 223.5) scale(0.900 1)" font-family="'Liberation Sans', Arial, sans-serif" font-size="25" font-weight="normal" text-anchor="start">R<tspan font-size="17.5" dy="6.8">gb</tspan></text>
<text transform="translate(1652 224.5) scale(0.900 1)" font-family="'Liberation Sans', Arial, sans-serif" font-size="25" font-weight="normal" text-anchor="start">R<tspan font-size="17.5" dy="6.8">e</tspan></text>
<text transform="translate(1494.7 345) scale(0.900 1)" font-family="'Liberation Sans', Arial, sans-serif" font-size="25" font-weight="normal" text-anchor="start">CPE<tspan font-size="17.5" dy="6.8">gb</tspan></text>
<text transform="translate(1642.8 346.9) scale(0.900 1)" font-family="'Liberation Sans', Arial, sans-serif" font-size="25" font-weight="normal" text-anchor="start">CPE<tspan font-size="17.5" dy="6.8">e</tspan></text>
<rect x="1798" y="93.2" width="151.2" height="158.8" fill="#000"/>
<rect x="1790.2" y="84.7" width="149.8" height="157.1" fill="#fff" stroke="#000" stroke-width="2"/>
<rect x="1820" y="99.3" width="13.3" height="13.4" fill="#000"/>
<circle cx="1826.8" cy="144.2" r="7.7" fill="#0000ff"/>
<path d="M1826.4 173.1L1835.1 182.6L1826.4 192.1L1817.7 182.6z" fill="#00ff00"/>
<path d="M1795 220.8H1859" stroke="#ff0000" stroke-width="6" stroke-linecap="round"/>
<g font-family="'Liberation Sans', Arial, sans-serif" font-size="29" fill="#000">
<text x="1868" y="116.2">80K</text><text x="1868" y="154.8">120K</text><text x="1868" y="193.8">170K</text><text x="1869" y="231">Fit</text>
</g>
<rect x="1815" y="419.8" width="95.7" height="53.2" fill="#00ff00"/>
<text transform="translate(1863.8 460.4) scale(0.940 1)" font-family="'Liberation Sans', Arial, sans-serif" font-size="39" font-weight="bold" text-anchor="middle">170K</text>
<text transform="translate(1376.5 644.4) scale(0.965 1)" font-family="'Liberation Sans', Arial, sans-serif" font-size="39" font-weight="bold" text-anchor="start">80K</text>
<path d="M1453 617.8L1780 482" stroke="#000" stroke-width="6.8" fill="none"/>
<path d="M1803.7 472.2L1776 476.6L1780.2 489.6z" fill="#000" stroke="#000" stroke-width="6" stroke-linejoin="round"/>
<rect x="2003.1" y="41.5" width="282.4" height="927" fill="#fff" stroke="#000" stroke-width="3"/>
<path d="M2059.8 66.2h29.5v29.5h-29.5z" fill="#00ff00"/>
<text transform="translate(2153.5 100) scale(0.975 1)" font-family="'Liberation Serif', 'Times New Roman', serif" font-size="57" font-weight="normal" text-anchor="start">170K</text>
<path d="M2074.5 129L2094 162.8L2055 162.8z" fill="#1a6add"/>
<text transform="translate(2153.5 170.6) scale(0.975 1)" font-family="'Liberation Serif', 'Times New Roman', serif" font-size="57" font-weight="normal" text-anchor="start">180K</text>
<path d="M2074.5 201.6L2095 222.1L2074.5 242.6L2054 222.1z" fill="#b078dc"/>
<text transform="translate(2153.5 241.1) scale(0.975 1)" font-family="'Liberation Serif', 'Times New Roman', serif" font-size="57" font-weight="normal" text-anchor="start">200K</text>
<path d="M2097 292.6L2063.2 312.1L2063.2 273.1z" fill="#00c8c8"/>
<text transform="translate(2153.5 311.6) scale(0.975 1)" font-family="'Liberation Serif', 'Times New Roman', serif" font-size="57" font-weight="normal" text-anchor="start">210K</text>
<path d="M2074.5 343.6L2079.8 355.9L2093.1 357.1L2083.1 366L2086 379.1L2074.5 372.2L2063 379.1L2065.9 366L2055.9 357.1L2069.2 355.9z" fill="#8c8c00"/>
<text transform="translate(2153.5 382.2) scale(0.975 1)" font-family="'Liberation Serif', 'Times New Roman', serif" font-size="57" font-weight="normal" text-anchor="start">220K</text>
<path d="M2058.2 433.8a16.3 16.3 0 1 0 32.6 0a16.3 16.3 0 1 0 -32.6 0z" fill="url(#sph)"/>
<text transform="translate(2153.5 452.8) scale(0.975 1)" font-family="'Liberation Serif', 'Times New Roman', serif" font-size="57" font-weight="normal" text-anchor="start">230K</text>
<path d="M2074.5 485.8L2090.5 495L2090.5 513.5L2074.5 522.8L2058.5 513.5L2058.5 495z" fill="#ffff00"/>
<text transform="translate(2153.5 523.3) scale(0.975 1)" font-family="'Liberation Serif', 'Times New Roman', serif" font-size="57" font-weight="normal" text-anchor="start">240K</text>
<path d="M2074.5 555.2L2079.8 567.6L2093.1 568.8L2083.1 577.6L2086 590.7L2074.5 583.9L2063 590.7L2065.9 577.6L2055.9 568.8L2069.2 567.6z" fill="#fa9696"/>
<text transform="translate(2153.5 593.8) scale(0.975 1)" font-family="'Liberation Serif', 'Times New Roman', serif" font-size="57" font-weight="normal" text-anchor="start">280K</text>
<path d="M2059.8 630.6h29.5v29.5h-29.5z" fill="#b078dc"/>
<text transform="translate(2153.5 664.4) scale(0.975 1)" font-family="'Liberation Serif', 'Times New Roman', serif" font-size="57" font-weight="normal" text-anchor="start">300K</text>
<path d="M2074.5 693.4L2094 727.2L2055 727.2z" fill="#00c8c8"/>
<text transform="translate(2153.5 734.9) scale(0.975 1)" font-family="'Liberation Serif', 'Times New Roman', serif" font-size="57" font-weight="normal" text-anchor="start">340K</text>
<path d="M2074.5 766L2095 786.5L2074.5 807L2054 786.5z" fill="#8c8c00"/>
<text transform="translate(2153.5 805.5) scale(0.975 1)" font-family="'Liberation Serif', 'Times New Roman', serif" font-size="57" font-weight="normal" text-anchor="start">380K</text>
<path d="M2097 857L2063.2 876.5L2063.2 837.5z" fill="#6699cc"/>
<text transform="translate(2153.5 876) scale(0.975 1)" font-family="'Liberation Serif', 'Times New Roman', serif" font-size="57" font-weight="normal" text-anchor="start">400K</text>
<text transform="translate(2152.5 946.3) scale(0.975 1)" font-family="'Liberation Serif', 'Times New Roman', serif" font-size="57" font-weight="normal" text-anchor="start">Fit</text>
<path d="M2011 928.5H2138.5" stroke="#ff0000" stroke-width="10.8" stroke-linecap="round"/>
</svg>
</body></html>
